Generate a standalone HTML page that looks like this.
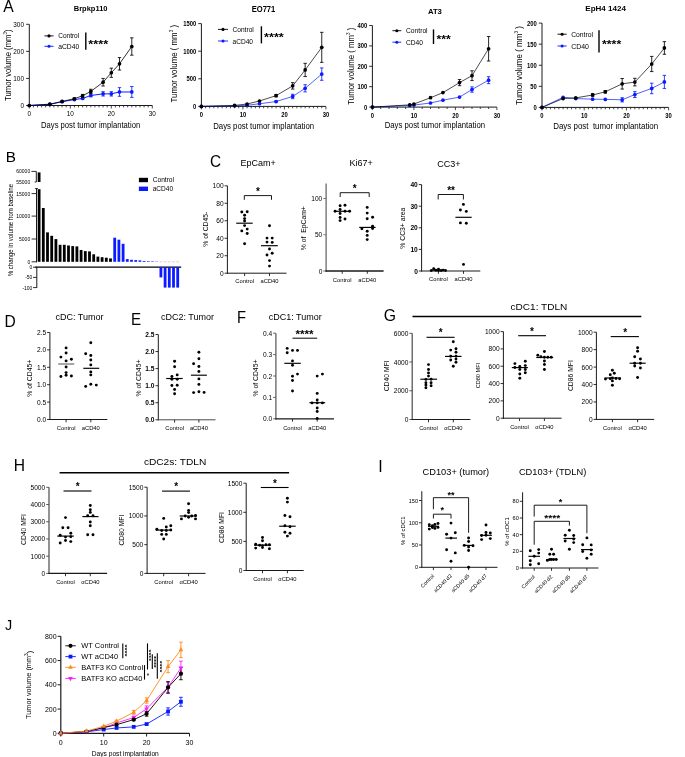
<!DOCTYPE html>
<html><head><meta charset="utf-8"><title>Figure</title>
<style>
html,body{margin:0;padding:0;background:#fff;}
body{width:685px;height:757px;overflow:hidden;}
svg{display:block;will-change:transform;}
text{font-family:"Liberation Sans",sans-serif;fill:#000;}
.pl{font-weight:normal;}
</style></head><body>
<svg width="685" height="757" viewBox="0 0 685 757">
<rect x="0" y="0" width="685" height="757" fill="#fff"/>
<text x="0" y="0" font-size="16.3" transform="translate(3.17 11.52) scale(0.964 1)">A</text>
<line x1="29.3" y1="106" x2="29.3" y2="24.3" stroke="#1a1a1a" stroke-width="1"/>
<line x1="28.8" y1="105.5" x2="152.3" y2="105.5" stroke="#1a1a1a" stroke-width="1"/>
<line x1="26.1" y1="105.5" x2="29.3" y2="105.5" stroke="#1a1a1a" stroke-width="0.9"/>
<text x="24" y="105.5" font-size="6.4" text-anchor="end" textLength="3.56" lengthAdjust="spacingAndGlyphs" dominant-baseline="central">0</text>
<line x1="26.1" y1="78.43" x2="29.3" y2="78.43" stroke="#1a1a1a" stroke-width="0.9"/>
<text x="24" y="78.43" font-size="6.4" text-anchor="end" textLength="10.68" lengthAdjust="spacingAndGlyphs" dominant-baseline="central">100</text>
<line x1="26.1" y1="51.37" x2="29.3" y2="51.37" stroke="#1a1a1a" stroke-width="0.9"/>
<text x="24" y="51.37" font-size="6.4" text-anchor="end" textLength="10.68" lengthAdjust="spacingAndGlyphs" dominant-baseline="central">200</text>
<line x1="26.1" y1="24.3" x2="29.3" y2="24.3" stroke="#1a1a1a" stroke-width="0.9"/>
<text x="24" y="24.3" font-size="6.4" text-anchor="end" textLength="10.68" lengthAdjust="spacingAndGlyphs" dominant-baseline="central">300</text>
<line x1="29.3" y1="105.5" x2="29.3" y2="108.5" stroke="#1a1a1a" stroke-width="0.8"/>
<text x="29.3" y="113.9" font-size="6.4" text-anchor="middle" textLength="3.56" lengthAdjust="spacingAndGlyphs" dominant-baseline="central">0</text>
<line x1="33.4" y1="105.5" x2="33.4" y2="107.4" stroke="#1a1a1a" stroke-width="0.8"/>
<line x1="37.5" y1="105.5" x2="37.5" y2="107.4" stroke="#1a1a1a" stroke-width="0.8"/>
<line x1="41.6" y1="105.5" x2="41.6" y2="107.4" stroke="#1a1a1a" stroke-width="0.8"/>
<line x1="45.7" y1="105.5" x2="45.7" y2="107.4" stroke="#1a1a1a" stroke-width="0.8"/>
<line x1="49.8" y1="105.5" x2="49.8" y2="107.4" stroke="#1a1a1a" stroke-width="0.8"/>
<line x1="53.9" y1="105.5" x2="53.9" y2="107.4" stroke="#1a1a1a" stroke-width="0.8"/>
<line x1="58" y1="105.5" x2="58" y2="107.4" stroke="#1a1a1a" stroke-width="0.8"/>
<line x1="62.1" y1="105.5" x2="62.1" y2="107.4" stroke="#1a1a1a" stroke-width="0.8"/>
<line x1="66.2" y1="105.5" x2="66.2" y2="107.4" stroke="#1a1a1a" stroke-width="0.8"/>
<line x1="70.3" y1="105.5" x2="70.3" y2="108.5" stroke="#1a1a1a" stroke-width="0.8"/>
<text x="70.3" y="113.9" font-size="6.4" text-anchor="middle" textLength="7.12" lengthAdjust="spacingAndGlyphs" dominant-baseline="central">10</text>
<line x1="74.4" y1="105.5" x2="74.4" y2="107.4" stroke="#1a1a1a" stroke-width="0.8"/>
<line x1="78.5" y1="105.5" x2="78.5" y2="107.4" stroke="#1a1a1a" stroke-width="0.8"/>
<line x1="82.6" y1="105.5" x2="82.6" y2="107.4" stroke="#1a1a1a" stroke-width="0.8"/>
<line x1="86.7" y1="105.5" x2="86.7" y2="107.4" stroke="#1a1a1a" stroke-width="0.8"/>
<line x1="90.8" y1="105.5" x2="90.8" y2="107.4" stroke="#1a1a1a" stroke-width="0.8"/>
<line x1="94.9" y1="105.5" x2="94.9" y2="107.4" stroke="#1a1a1a" stroke-width="0.8"/>
<line x1="99" y1="105.5" x2="99" y2="107.4" stroke="#1a1a1a" stroke-width="0.8"/>
<line x1="103.1" y1="105.5" x2="103.1" y2="107.4" stroke="#1a1a1a" stroke-width="0.8"/>
<line x1="107.2" y1="105.5" x2="107.2" y2="107.4" stroke="#1a1a1a" stroke-width="0.8"/>
<line x1="111.3" y1="105.5" x2="111.3" y2="108.5" stroke="#1a1a1a" stroke-width="0.8"/>
<text x="111.3" y="113.9" font-size="6.4" text-anchor="middle" textLength="7.12" lengthAdjust="spacingAndGlyphs" dominant-baseline="central">20</text>
<line x1="115.4" y1="105.5" x2="115.4" y2="107.4" stroke="#1a1a1a" stroke-width="0.8"/>
<line x1="119.5" y1="105.5" x2="119.5" y2="107.4" stroke="#1a1a1a" stroke-width="0.8"/>
<line x1="123.6" y1="105.5" x2="123.6" y2="107.4" stroke="#1a1a1a" stroke-width="0.8"/>
<line x1="127.7" y1="105.5" x2="127.7" y2="107.4" stroke="#1a1a1a" stroke-width="0.8"/>
<line x1="131.8" y1="105.5" x2="131.8" y2="107.4" stroke="#1a1a1a" stroke-width="0.8"/>
<line x1="135.9" y1="105.5" x2="135.9" y2="107.4" stroke="#1a1a1a" stroke-width="0.8"/>
<line x1="140" y1="105.5" x2="140" y2="107.4" stroke="#1a1a1a" stroke-width="0.8"/>
<line x1="144.1" y1="105.5" x2="144.1" y2="107.4" stroke="#1a1a1a" stroke-width="0.8"/>
<line x1="148.2" y1="105.5" x2="148.2" y2="107.4" stroke="#1a1a1a" stroke-width="0.8"/>
<line x1="152.3" y1="105.5" x2="152.3" y2="108.5" stroke="#1a1a1a" stroke-width="0.8"/>
<text x="152.3" y="113.9" font-size="6.4" text-anchor="middle" textLength="7.12" lengthAdjust="spacingAndGlyphs" dominant-baseline="central">30</text>
<polyline points="29.3,105.5 49.8,104.42 62.1,101.71 74.4,99.55 82.6,98.46 90.8,95.49 103.1,93.86 111.3,93.86 119.5,91.97 131.8,91.97" fill="none" stroke="#0a1cff" stroke-width="1" stroke-linejoin="round"/>
<line x1="74.4" y1="100.09" x2="74.4" y2="99" stroke="#0a1cff" stroke-width="0.85"/>
<line x1="72.7" y1="100.09" x2="76.1" y2="100.09" stroke="#0a1cff" stroke-width="0.85"/>
<line x1="72.7" y1="99" x2="76.1" y2="99" stroke="#0a1cff" stroke-width="0.85"/>
<line x1="82.6" y1="99.27" x2="82.6" y2="97.65" stroke="#0a1cff" stroke-width="0.85"/>
<line x1="80.9" y1="99.27" x2="84.3" y2="99.27" stroke="#0a1cff" stroke-width="0.85"/>
<line x1="80.9" y1="97.65" x2="84.3" y2="97.65" stroke="#0a1cff" stroke-width="0.85"/>
<line x1="90.8" y1="96.84" x2="90.8" y2="94.13" stroke="#0a1cff" stroke-width="0.85"/>
<line x1="89.1" y1="96.84" x2="92.5" y2="96.84" stroke="#0a1cff" stroke-width="0.85"/>
<line x1="89.1" y1="94.13" x2="92.5" y2="94.13" stroke="#0a1cff" stroke-width="0.85"/>
<line x1="103.1" y1="96.03" x2="103.1" y2="91.7" stroke="#0a1cff" stroke-width="0.85"/>
<line x1="101.4" y1="96.03" x2="104.8" y2="96.03" stroke="#0a1cff" stroke-width="0.85"/>
<line x1="101.4" y1="91.7" x2="104.8" y2="91.7" stroke="#0a1cff" stroke-width="0.85"/>
<line x1="111.3" y1="96.03" x2="111.3" y2="91.7" stroke="#0a1cff" stroke-width="0.85"/>
<line x1="109.6" y1="96.03" x2="113" y2="96.03" stroke="#0a1cff" stroke-width="0.85"/>
<line x1="109.6" y1="91.7" x2="113" y2="91.7" stroke="#0a1cff" stroke-width="0.85"/>
<line x1="119.5" y1="96.3" x2="119.5" y2="87.64" stroke="#0a1cff" stroke-width="0.85"/>
<line x1="117.8" y1="96.3" x2="121.2" y2="96.3" stroke="#0a1cff" stroke-width="0.85"/>
<line x1="117.8" y1="87.64" x2="121.2" y2="87.64" stroke="#0a1cff" stroke-width="0.85"/>
<line x1="131.8" y1="97.38" x2="131.8" y2="86.55" stroke="#0a1cff" stroke-width="0.85"/>
<line x1="130.1" y1="97.38" x2="133.5" y2="97.38" stroke="#0a1cff" stroke-width="0.85"/>
<line x1="130.1" y1="86.55" x2="133.5" y2="86.55" stroke="#0a1cff" stroke-width="0.85"/>
<circle cx="29.3" cy="105.5" r="1.85" fill="#0a1cff"/>
<circle cx="49.8" cy="104.42" r="1.85" fill="#0a1cff"/>
<circle cx="62.1" cy="101.71" r="1.85" fill="#0a1cff"/>
<circle cx="74.4" cy="99.55" r="1.85" fill="#0a1cff"/>
<circle cx="82.6" cy="98.46" r="1.85" fill="#0a1cff"/>
<circle cx="90.8" cy="95.49" r="1.85" fill="#0a1cff"/>
<circle cx="103.1" cy="93.86" r="1.85" fill="#0a1cff"/>
<circle cx="111.3" cy="93.86" r="1.85" fill="#0a1cff"/>
<circle cx="119.5" cy="91.97" r="1.85" fill="#0a1cff"/>
<circle cx="131.8" cy="91.97" r="1.85" fill="#0a1cff"/>
<polyline points="29.3,105.5 49.8,104.15 62.1,101.44 74.4,98.73 82.6,95.76 90.8,91.43 103.1,82.22 111.3,72.75 119.5,63.82 131.8,46.49" fill="none" stroke="#000" stroke-width="0.8" stroke-linejoin="round"/>
<line x1="74.4" y1="99.55" x2="74.4" y2="97.92" stroke="#000" stroke-width="0.85"/>
<line x1="72.7" y1="99.55" x2="76.1" y2="99.55" stroke="#000" stroke-width="0.85"/>
<line x1="72.7" y1="97.92" x2="76.1" y2="97.92" stroke="#000" stroke-width="0.85"/>
<line x1="82.6" y1="97.11" x2="82.6" y2="94.4" stroke="#000" stroke-width="0.85"/>
<line x1="80.9" y1="97.11" x2="84.3" y2="97.11" stroke="#000" stroke-width="0.85"/>
<line x1="80.9" y1="94.4" x2="84.3" y2="94.4" stroke="#000" stroke-width="0.85"/>
<line x1="90.8" y1="93.59" x2="90.8" y2="89.26" stroke="#000" stroke-width="0.85"/>
<line x1="89.1" y1="93.59" x2="92.5" y2="93.59" stroke="#000" stroke-width="0.85"/>
<line x1="89.1" y1="89.26" x2="92.5" y2="89.26" stroke="#000" stroke-width="0.85"/>
<line x1="103.1" y1="86.01" x2="103.1" y2="78.43" stroke="#000" stroke-width="0.85"/>
<line x1="101.4" y1="86.01" x2="104.8" y2="86.01" stroke="#000" stroke-width="0.85"/>
<line x1="101.4" y1="78.43" x2="104.8" y2="78.43" stroke="#000" stroke-width="0.85"/>
<line x1="111.3" y1="77.35" x2="111.3" y2="68.15" stroke="#000" stroke-width="0.85"/>
<line x1="109.6" y1="77.35" x2="113" y2="77.35" stroke="#000" stroke-width="0.85"/>
<line x1="109.6" y1="68.15" x2="113" y2="68.15" stroke="#000" stroke-width="0.85"/>
<line x1="119.5" y1="70.04" x2="119.5" y2="57.59" stroke="#000" stroke-width="0.85"/>
<line x1="117.8" y1="70.04" x2="121.2" y2="70.04" stroke="#000" stroke-width="0.85"/>
<line x1="117.8" y1="57.59" x2="121.2" y2="57.59" stroke="#000" stroke-width="0.85"/>
<line x1="131.8" y1="55.16" x2="131.8" y2="37.83" stroke="#000" stroke-width="0.85"/>
<line x1="130.1" y1="55.16" x2="133.5" y2="55.16" stroke="#000" stroke-width="0.85"/>
<line x1="130.1" y1="37.83" x2="133.5" y2="37.83" stroke="#000" stroke-width="0.85"/>
<circle cx="29.3" cy="105.5" r="1.85" fill="#000"/>
<circle cx="49.8" cy="104.15" r="1.85" fill="#000"/>
<circle cx="62.1" cy="101.44" r="1.85" fill="#000"/>
<circle cx="74.4" cy="98.73" r="1.85" fill="#000"/>
<circle cx="82.6" cy="95.76" r="1.85" fill="#000"/>
<circle cx="90.8" cy="91.43" r="1.85" fill="#000"/>
<circle cx="103.1" cy="82.22" r="1.85" fill="#000"/>
<circle cx="111.3" cy="72.75" r="1.85" fill="#000"/>
<circle cx="119.5" cy="63.82" r="1.85" fill="#000"/>
<circle cx="131.8" cy="46.49" r="1.85" fill="#000"/>
<text x="90.65" y="8.45" font-size="7.3" text-anchor="middle" font-weight="bold" textLength="33.7" lengthAdjust="spacingAndGlyphs" dominant-baseline="central">Brpkp110</text>
<text x="8.3" y="65.2" font-size="8.6" text-anchor="middle" textLength="71.4" lengthAdjust="spacingAndGlyphs" transform="rotate(-90 8.3 65.2)" dominant-baseline="central">Tumor volume (mm<tspan font-size="5" dy="-3">3</tspan><tspan dy="3">)</tspan></text>
<text x="90.6" y="124.6" font-size="8.6" text-anchor="middle" textLength="99.1" lengthAdjust="spacingAndGlyphs" dominant-baseline="central">Days post tumor implantation</text>
<line x1="44.4" y1="35.9" x2="53.6" y2="35.9" stroke="#000" stroke-width="0.9"/>
<circle cx="49" cy="35.9" r="1.55" fill="#000"/>
<text x="58.2" y="35.9" font-size="7.3" textLength="21" lengthAdjust="spacingAndGlyphs" dominant-baseline="central">Control</text>
<line x1="44.4" y1="46.3" x2="53.6" y2="46.3" stroke="#0a1cff" stroke-width="0.9"/>
<circle cx="49" cy="46.3" r="1.55" fill="#0a1cff"/>
<text x="58.2" y="46.3" font-size="7.3" textLength="21" lengthAdjust="spacingAndGlyphs" dominant-baseline="central">aCD40</text>
<line x1="85.8" y1="32.4" x2="85.8" y2="49.7" stroke="#000" stroke-width="1.4"/>
<text x="88.3" y="43.5" font-size="11" font-weight="bold" textLength="19.8" lengthAdjust="spacingAndGlyphs" dominant-baseline="central">****</text>
<line x1="201.4" y1="106.9" x2="201.4" y2="23.6" stroke="#1a1a1a" stroke-width="1"/>
<line x1="200.9" y1="106.4" x2="325.9" y2="106.4" stroke="#1a1a1a" stroke-width="1"/>
<line x1="198.2" y1="106.4" x2="201.4" y2="106.4" stroke="#1a1a1a" stroke-width="0.9"/>
<text x="196.2" y="106.4" font-size="6.3" text-anchor="end" font-weight="bold" textLength="3.26" lengthAdjust="spacingAndGlyphs" dominant-baseline="central">0</text>
<line x1="198.2" y1="78.8" x2="201.4" y2="78.8" stroke="#1a1a1a" stroke-width="0.9"/>
<text x="196.2" y="78.8" font-size="6.3" text-anchor="end" font-weight="bold" textLength="9.78" lengthAdjust="spacingAndGlyphs" dominant-baseline="central">500</text>
<line x1="198.2" y1="51.2" x2="201.4" y2="51.2" stroke="#1a1a1a" stroke-width="0.9"/>
<text x="196.2" y="51.2" font-size="6.3" text-anchor="end" font-weight="bold" textLength="13.03" lengthAdjust="spacingAndGlyphs" dominant-baseline="central">1000</text>
<line x1="198.2" y1="23.6" x2="201.4" y2="23.6" stroke="#1a1a1a" stroke-width="0.9"/>
<text x="196.2" y="23.6" font-size="6.3" text-anchor="end" font-weight="bold" textLength="13.03" lengthAdjust="spacingAndGlyphs" dominant-baseline="central">1500</text>
<line x1="201.4" y1="106.4" x2="201.4" y2="109.4" stroke="#1a1a1a" stroke-width="0.8"/>
<text x="201.4" y="114.8" font-size="6.3" text-anchor="middle" font-weight="bold" textLength="3.26" lengthAdjust="spacingAndGlyphs" dominant-baseline="central">0</text>
<line x1="205.55" y1="106.4" x2="205.55" y2="108.3" stroke="#1a1a1a" stroke-width="0.8"/>
<line x1="209.7" y1="106.4" x2="209.7" y2="108.3" stroke="#1a1a1a" stroke-width="0.8"/>
<line x1="213.85" y1="106.4" x2="213.85" y2="108.3" stroke="#1a1a1a" stroke-width="0.8"/>
<line x1="218" y1="106.4" x2="218" y2="108.3" stroke="#1a1a1a" stroke-width="0.8"/>
<line x1="222.15" y1="106.4" x2="222.15" y2="108.3" stroke="#1a1a1a" stroke-width="0.8"/>
<line x1="226.3" y1="106.4" x2="226.3" y2="108.3" stroke="#1a1a1a" stroke-width="0.8"/>
<line x1="230.45" y1="106.4" x2="230.45" y2="108.3" stroke="#1a1a1a" stroke-width="0.8"/>
<line x1="234.6" y1="106.4" x2="234.6" y2="108.3" stroke="#1a1a1a" stroke-width="0.8"/>
<line x1="238.75" y1="106.4" x2="238.75" y2="108.3" stroke="#1a1a1a" stroke-width="0.8"/>
<line x1="242.9" y1="106.4" x2="242.9" y2="109.4" stroke="#1a1a1a" stroke-width="0.8"/>
<text x="242.9" y="114.8" font-size="6.3" text-anchor="middle" font-weight="bold" textLength="6.52" lengthAdjust="spacingAndGlyphs" dominant-baseline="central">10</text>
<line x1="247.05" y1="106.4" x2="247.05" y2="108.3" stroke="#1a1a1a" stroke-width="0.8"/>
<line x1="251.2" y1="106.4" x2="251.2" y2="108.3" stroke="#1a1a1a" stroke-width="0.8"/>
<line x1="255.35" y1="106.4" x2="255.35" y2="108.3" stroke="#1a1a1a" stroke-width="0.8"/>
<line x1="259.5" y1="106.4" x2="259.5" y2="108.3" stroke="#1a1a1a" stroke-width="0.8"/>
<line x1="263.65" y1="106.4" x2="263.65" y2="108.3" stroke="#1a1a1a" stroke-width="0.8"/>
<line x1="267.8" y1="106.4" x2="267.8" y2="108.3" stroke="#1a1a1a" stroke-width="0.8"/>
<line x1="271.95" y1="106.4" x2="271.95" y2="108.3" stroke="#1a1a1a" stroke-width="0.8"/>
<line x1="276.1" y1="106.4" x2="276.1" y2="108.3" stroke="#1a1a1a" stroke-width="0.8"/>
<line x1="280.25" y1="106.4" x2="280.25" y2="108.3" stroke="#1a1a1a" stroke-width="0.8"/>
<line x1="284.4" y1="106.4" x2="284.4" y2="109.4" stroke="#1a1a1a" stroke-width="0.8"/>
<text x="284.4" y="114.8" font-size="6.3" text-anchor="middle" font-weight="bold" textLength="6.52" lengthAdjust="spacingAndGlyphs" dominant-baseline="central">20</text>
<line x1="288.55" y1="106.4" x2="288.55" y2="108.3" stroke="#1a1a1a" stroke-width="0.8"/>
<line x1="292.7" y1="106.4" x2="292.7" y2="108.3" stroke="#1a1a1a" stroke-width="0.8"/>
<line x1="296.85" y1="106.4" x2="296.85" y2="108.3" stroke="#1a1a1a" stroke-width="0.8"/>
<line x1="301" y1="106.4" x2="301" y2="108.3" stroke="#1a1a1a" stroke-width="0.8"/>
<line x1="305.15" y1="106.4" x2="305.15" y2="108.3" stroke="#1a1a1a" stroke-width="0.8"/>
<line x1="309.3" y1="106.4" x2="309.3" y2="108.3" stroke="#1a1a1a" stroke-width="0.8"/>
<line x1="313.45" y1="106.4" x2="313.45" y2="108.3" stroke="#1a1a1a" stroke-width="0.8"/>
<line x1="317.6" y1="106.4" x2="317.6" y2="108.3" stroke="#1a1a1a" stroke-width="0.8"/>
<line x1="321.75" y1="106.4" x2="321.75" y2="108.3" stroke="#1a1a1a" stroke-width="0.8"/>
<line x1="325.9" y1="106.4" x2="325.9" y2="109.4" stroke="#1a1a1a" stroke-width="0.8"/>
<text x="325.9" y="114.8" font-size="6.3" text-anchor="middle" font-weight="bold" textLength="6.52" lengthAdjust="spacingAndGlyphs" dominant-baseline="central">30</text>
<polyline points="201.4,106.4 234.6,105.85 247.05,105.3 259.5,103.75 276.1,101.54 292.7,96.46 305.15,88.29 321.75,74.11" fill="none" stroke="#0a1cff" stroke-width="0.7" stroke-linejoin="round"/>
<line x1="276.1" y1="102.09" x2="276.1" y2="100.99" stroke="#0a1cff" stroke-width="0.85"/>
<line x1="274.4" y1="102.09" x2="277.8" y2="102.09" stroke="#0a1cff" stroke-width="0.85"/>
<line x1="274.4" y1="100.99" x2="277.8" y2="100.99" stroke="#0a1cff" stroke-width="0.85"/>
<line x1="292.7" y1="98.67" x2="292.7" y2="94.26" stroke="#0a1cff" stroke-width="0.85"/>
<line x1="291" y1="98.67" x2="294.4" y2="98.67" stroke="#0a1cff" stroke-width="0.85"/>
<line x1="291" y1="94.26" x2="294.4" y2="94.26" stroke="#0a1cff" stroke-width="0.85"/>
<line x1="305.15" y1="91.88" x2="305.15" y2="84.71" stroke="#0a1cff" stroke-width="0.85"/>
<line x1="303.45" y1="91.88" x2="306.85" y2="91.88" stroke="#0a1cff" stroke-width="0.85"/>
<line x1="303.45" y1="84.71" x2="306.85" y2="84.71" stroke="#0a1cff" stroke-width="0.85"/>
<line x1="321.75" y1="80.29" x2="321.75" y2="67.93" stroke="#0a1cff" stroke-width="0.85"/>
<line x1="320.05" y1="80.29" x2="323.45" y2="80.29" stroke="#0a1cff" stroke-width="0.85"/>
<line x1="320.05" y1="67.93" x2="323.45" y2="67.93" stroke="#0a1cff" stroke-width="0.85"/>
<circle cx="201.4" cy="106.4" r="1.85" fill="#0a1cff"/>
<circle cx="234.6" cy="105.85" r="1.85" fill="#0a1cff"/>
<circle cx="247.05" cy="105.3" r="1.85" fill="#0a1cff"/>
<circle cx="259.5" cy="103.75" r="1.85" fill="#0a1cff"/>
<circle cx="276.1" cy="101.54" r="1.85" fill="#0a1cff"/>
<circle cx="292.7" cy="96.46" r="1.85" fill="#0a1cff"/>
<circle cx="305.15" cy="88.29" r="1.85" fill="#0a1cff"/>
<circle cx="321.75" cy="74.11" r="1.85" fill="#0a1cff"/>
<polyline points="201.4,106.4 234.6,105.41 247.05,104.03 259.5,100.99 276.1,95.64 292.7,85.87 305.15,69.97 321.75,47.34" fill="none" stroke="#000" stroke-width="0.7" stroke-linejoin="round"/>
<line x1="276.1" y1="96.74" x2="276.1" y2="94.53" stroke="#000" stroke-width="0.85"/>
<line x1="274.4" y1="96.74" x2="277.8" y2="96.74" stroke="#000" stroke-width="0.85"/>
<line x1="274.4" y1="94.53" x2="277.8" y2="94.53" stroke="#000" stroke-width="0.85"/>
<line x1="292.7" y1="89.07" x2="292.7" y2="82.66" stroke="#000" stroke-width="0.85"/>
<line x1="291" y1="89.07" x2="294.4" y2="89.07" stroke="#000" stroke-width="0.85"/>
<line x1="291" y1="82.66" x2="294.4" y2="82.66" stroke="#000" stroke-width="0.85"/>
<line x1="305.15" y1="76.59" x2="305.15" y2="63.34" stroke="#000" stroke-width="0.85"/>
<line x1="303.45" y1="76.59" x2="306.85" y2="76.59" stroke="#000" stroke-width="0.85"/>
<line x1="303.45" y1="63.34" x2="306.85" y2="63.34" stroke="#000" stroke-width="0.85"/>
<line x1="321.75" y1="62.35" x2="321.75" y2="32.32" stroke="#000" stroke-width="0.85"/>
<line x1="320.05" y1="62.35" x2="323.45" y2="62.35" stroke="#000" stroke-width="0.85"/>
<line x1="320.05" y1="32.32" x2="323.45" y2="32.32" stroke="#000" stroke-width="0.85"/>
<circle cx="201.4" cy="106.4" r="1.85" fill="#000"/>
<circle cx="234.6" cy="105.41" r="1.85" fill="#000"/>
<circle cx="247.05" cy="104.03" r="1.85" fill="#000"/>
<circle cx="259.5" cy="100.99" r="1.85" fill="#000"/>
<circle cx="276.1" cy="95.64" r="1.85" fill="#000"/>
<circle cx="292.7" cy="85.87" r="1.85" fill="#000"/>
<circle cx="305.15" cy="69.97" r="1.85" fill="#000"/>
<circle cx="321.75" cy="47.34" r="1.85" fill="#000"/>
<text x="263.5" y="9.85" font-size="8.2" text-anchor="middle" font-weight="bold" textLength="23.7" lengthAdjust="spacingAndGlyphs" dominant-baseline="central">EO771</text>
<text x="174.4" y="63.7" font-size="8.6" text-anchor="middle" textLength="77.5" lengthAdjust="spacingAndGlyphs" transform="rotate(-90 174.4 63.7)" dominant-baseline="central">Tumor volume ( mm<tspan font-size="5" dy="-3">3</tspan><tspan dy="3"> )</tspan></text>
<text x="263.7" y="125.8" font-size="8.6" text-anchor="middle" textLength="101" lengthAdjust="spacingAndGlyphs" dominant-baseline="central">Days post tumor implantation</text>
<line x1="218" y1="29.4" x2="228" y2="29.4" stroke="#000" stroke-width="0.9"/>
<circle cx="223" cy="29.4" r="1.55" fill="#000"/>
<text x="232.5" y="29.4" font-size="7.3" textLength="21.3" lengthAdjust="spacingAndGlyphs" dominant-baseline="central">Control</text>
<line x1="218" y1="41" x2="228" y2="41" stroke="#0a1cff" stroke-width="0.9"/>
<circle cx="223" cy="41" r="1.55" fill="#0a1cff"/>
<text x="232.5" y="41" font-size="7.3" textLength="20.5" lengthAdjust="spacingAndGlyphs" dominant-baseline="central">aCD40</text>
<line x1="261.4" y1="26.3" x2="261.4" y2="43.4" stroke="#000" stroke-width="1.4"/>
<text x="264" y="37.3" font-size="11" font-weight="bold" textLength="19.8" lengthAdjust="spacingAndGlyphs" dominant-baseline="central">****</text>
<line x1="372.4" y1="107.6" x2="372.4" y2="25.5" stroke="#1a1a1a" stroke-width="1"/>
<line x1="371.9" y1="107.1" x2="496.9" y2="107.1" stroke="#1a1a1a" stroke-width="1"/>
<line x1="369.2" y1="107.1" x2="372.4" y2="107.1" stroke="#1a1a1a" stroke-width="0.9"/>
<text x="367.2" y="107.1" font-size="6.3" text-anchor="end" font-weight="bold" textLength="3.26" lengthAdjust="spacingAndGlyphs" dominant-baseline="central">0</text>
<line x1="369.2" y1="86.7" x2="372.4" y2="86.7" stroke="#1a1a1a" stroke-width="0.9"/>
<text x="367.2" y="86.7" font-size="6.3" text-anchor="end" font-weight="bold" textLength="9.78" lengthAdjust="spacingAndGlyphs" dominant-baseline="central">100</text>
<line x1="369.2" y1="66.3" x2="372.4" y2="66.3" stroke="#1a1a1a" stroke-width="0.9"/>
<text x="367.2" y="66.3" font-size="6.3" text-anchor="end" font-weight="bold" textLength="9.78" lengthAdjust="spacingAndGlyphs" dominant-baseline="central">200</text>
<line x1="369.2" y1="45.9" x2="372.4" y2="45.9" stroke="#1a1a1a" stroke-width="0.9"/>
<text x="367.2" y="45.9" font-size="6.3" text-anchor="end" font-weight="bold" textLength="9.78" lengthAdjust="spacingAndGlyphs" dominant-baseline="central">300</text>
<line x1="369.2" y1="25.5" x2="372.4" y2="25.5" stroke="#1a1a1a" stroke-width="0.9"/>
<text x="367.2" y="25.5" font-size="6.3" text-anchor="end" font-weight="bold" textLength="9.78" lengthAdjust="spacingAndGlyphs" dominant-baseline="central">400</text>
<line x1="372.4" y1="107.1" x2="372.4" y2="110.1" stroke="#1a1a1a" stroke-width="0.8"/>
<text x="372.4" y="115.5" font-size="6.3" text-anchor="middle" font-weight="bold" textLength="3.26" lengthAdjust="spacingAndGlyphs" dominant-baseline="central">0</text>
<line x1="380.7" y1="107.1" x2="380.7" y2="109" stroke="#1a1a1a" stroke-width="0.8"/>
<line x1="389" y1="107.1" x2="389" y2="109" stroke="#1a1a1a" stroke-width="0.8"/>
<line x1="397.3" y1="107.1" x2="397.3" y2="109" stroke="#1a1a1a" stroke-width="0.8"/>
<line x1="405.6" y1="107.1" x2="405.6" y2="109" stroke="#1a1a1a" stroke-width="0.8"/>
<line x1="413.9" y1="107.1" x2="413.9" y2="110.1" stroke="#1a1a1a" stroke-width="0.8"/>
<text x="413.9" y="115.5" font-size="6.3" text-anchor="middle" font-weight="bold" textLength="6.52" lengthAdjust="spacingAndGlyphs" dominant-baseline="central">10</text>
<line x1="422.2" y1="107.1" x2="422.2" y2="109" stroke="#1a1a1a" stroke-width="0.8"/>
<line x1="430.5" y1="107.1" x2="430.5" y2="109" stroke="#1a1a1a" stroke-width="0.8"/>
<line x1="438.8" y1="107.1" x2="438.8" y2="109" stroke="#1a1a1a" stroke-width="0.8"/>
<line x1="447.1" y1="107.1" x2="447.1" y2="109" stroke="#1a1a1a" stroke-width="0.8"/>
<line x1="455.4" y1="107.1" x2="455.4" y2="110.1" stroke="#1a1a1a" stroke-width="0.8"/>
<text x="455.4" y="115.5" font-size="6.3" text-anchor="middle" font-weight="bold" textLength="6.52" lengthAdjust="spacingAndGlyphs" dominant-baseline="central">20</text>
<line x1="463.7" y1="107.1" x2="463.7" y2="109" stroke="#1a1a1a" stroke-width="0.8"/>
<line x1="472" y1="107.1" x2="472" y2="109" stroke="#1a1a1a" stroke-width="0.8"/>
<line x1="480.3" y1="107.1" x2="480.3" y2="109" stroke="#1a1a1a" stroke-width="0.8"/>
<line x1="488.6" y1="107.1" x2="488.6" y2="109" stroke="#1a1a1a" stroke-width="0.8"/>
<line x1="496.9" y1="107.1" x2="496.9" y2="110.1" stroke="#1a1a1a" stroke-width="0.8"/>
<text x="496.9" y="115.5" font-size="6.3" text-anchor="middle" font-weight="bold" textLength="6.52" lengthAdjust="spacingAndGlyphs" dominant-baseline="central">30</text>
<polyline points="372.4,107.1 409.75,105.47 413.9,105.06 430.5,103.02 442.95,100.16 459.55,97.1 472,89.56 488.6,80.17" fill="none" stroke="#0a1cff" stroke-width="0.7" stroke-linejoin="round"/>
<line x1="472" y1="92.21" x2="472" y2="86.9" stroke="#0a1cff" stroke-width="0.85"/>
<line x1="470.3" y1="92.21" x2="473.7" y2="92.21" stroke="#0a1cff" stroke-width="0.85"/>
<line x1="470.3" y1="86.9" x2="473.7" y2="86.9" stroke="#0a1cff" stroke-width="0.85"/>
<line x1="488.6" y1="83.64" x2="488.6" y2="76.7" stroke="#0a1cff" stroke-width="0.85"/>
<line x1="486.9" y1="83.64" x2="490.3" y2="83.64" stroke="#0a1cff" stroke-width="0.85"/>
<line x1="486.9" y1="76.7" x2="490.3" y2="76.7" stroke="#0a1cff" stroke-width="0.85"/>
<circle cx="372.4" cy="107.1" r="1.85" fill="#0a1cff"/>
<circle cx="409.75" cy="105.47" r="1.85" fill="#0a1cff"/>
<circle cx="413.9" cy="105.06" r="1.85" fill="#0a1cff"/>
<circle cx="430.5" cy="103.02" r="1.85" fill="#0a1cff"/>
<circle cx="442.95" cy="100.16" r="1.85" fill="#0a1cff"/>
<circle cx="459.55" cy="97.1" r="1.85" fill="#0a1cff"/>
<circle cx="472" cy="89.56" r="1.85" fill="#0a1cff"/>
<circle cx="488.6" cy="80.17" r="1.85" fill="#0a1cff"/>
<polyline points="372.4,107.1 409.75,104.86 413.9,104.04 430.5,97.72 442.95,92.62 459.55,82.62 472,75.68 488.6,48.76" fill="none" stroke="#000" stroke-width="0.7" stroke-linejoin="round"/>
<line x1="459.55" y1="85.68" x2="459.55" y2="79.56" stroke="#000" stroke-width="0.85"/>
<line x1="457.85" y1="85.68" x2="461.25" y2="85.68" stroke="#000" stroke-width="0.85"/>
<line x1="457.85" y1="79.56" x2="461.25" y2="79.56" stroke="#000" stroke-width="0.85"/>
<line x1="472" y1="80.58" x2="472" y2="70.79" stroke="#000" stroke-width="0.85"/>
<line x1="470.3" y1="80.58" x2="473.7" y2="80.58" stroke="#000" stroke-width="0.85"/>
<line x1="470.3" y1="70.79" x2="473.7" y2="70.79" stroke="#000" stroke-width="0.85"/>
<line x1="488.6" y1="61" x2="488.6" y2="36.52" stroke="#000" stroke-width="0.85"/>
<line x1="486.9" y1="61" x2="490.3" y2="61" stroke="#000" stroke-width="0.85"/>
<line x1="486.9" y1="36.52" x2="490.3" y2="36.52" stroke="#000" stroke-width="0.85"/>
<circle cx="372.4" cy="107.1" r="1.85" fill="#000"/>
<circle cx="409.75" cy="104.86" r="1.85" fill="#000"/>
<circle cx="413.9" cy="104.04" r="1.85" fill="#000"/>
<circle cx="430.5" cy="97.72" r="1.85" fill="#000"/>
<circle cx="442.95" cy="92.62" r="1.85" fill="#000"/>
<circle cx="459.55" cy="82.62" r="1.85" fill="#000"/>
<circle cx="472" cy="75.68" r="1.85" fill="#000"/>
<circle cx="488.6" cy="48.76" r="1.85" fill="#000"/>
<text x="434.9" y="11" font-size="7.8" text-anchor="middle" font-weight="bold" textLength="14" lengthAdjust="spacingAndGlyphs" dominant-baseline="central">AT3</text>
<text x="351.3" y="66.2" font-size="8.6" text-anchor="middle" textLength="77" lengthAdjust="spacingAndGlyphs" transform="rotate(-90 351.3 66.2)" dominant-baseline="central">Tumor volume ( mm<tspan font-size="5" dy="-3">3</tspan><tspan dy="3"> )</tspan></text>
<text x="434.9" y="125.4" font-size="8.6" text-anchor="middle" textLength="100.4" lengthAdjust="spacingAndGlyphs" dominant-baseline="central">Days post tumor implantation</text>
<line x1="392.4" y1="30.7" x2="401.3" y2="30.7" stroke="#000" stroke-width="0.9"/>
<circle cx="396.85" cy="30.7" r="1.55" fill="#000"/>
<text x="406" y="30.7" font-size="7.3" textLength="21.6" lengthAdjust="spacingAndGlyphs" dominant-baseline="central">Control</text>
<line x1="392.4" y1="42.2" x2="401.3" y2="42.2" stroke="#0a1cff" stroke-width="0.9"/>
<circle cx="396.85" cy="42.2" r="1.55" fill="#0a1cff"/>
<text x="406" y="42.2" font-size="7.3" textLength="17" lengthAdjust="spacingAndGlyphs" dominant-baseline="central">CD40</text>
<line x1="433.5" y1="29.4" x2="433.5" y2="44" stroke="#000" stroke-width="1.4"/>
<text x="436.5" y="39" font-size="11" font-weight="bold" textLength="14.3" lengthAdjust="spacingAndGlyphs" dominant-baseline="central">***</text>
<line x1="542" y1="107.9" x2="542" y2="23.1" stroke="#1a1a1a" stroke-width="1"/>
<line x1="541.5" y1="107.4" x2="668.6" y2="107.4" stroke="#1a1a1a" stroke-width="1"/>
<line x1="538.8" y1="107.4" x2="542" y2="107.4" stroke="#1a1a1a" stroke-width="0.9"/>
<text x="536.8" y="107.4" font-size="6.3" text-anchor="end" font-weight="bold" textLength="3.26" lengthAdjust="spacingAndGlyphs" dominant-baseline="central">0</text>
<line x1="538.8" y1="86.33" x2="542" y2="86.33" stroke="#1a1a1a" stroke-width="0.9"/>
<text x="536.8" y="86.33" font-size="6.3" text-anchor="end" font-weight="bold" textLength="6.52" lengthAdjust="spacingAndGlyphs" dominant-baseline="central">50</text>
<line x1="538.8" y1="65.25" x2="542" y2="65.25" stroke="#1a1a1a" stroke-width="0.9"/>
<text x="536.8" y="65.25" font-size="6.3" text-anchor="end" font-weight="bold" textLength="9.78" lengthAdjust="spacingAndGlyphs" dominant-baseline="central">100</text>
<line x1="538.8" y1="44.17" x2="542" y2="44.17" stroke="#1a1a1a" stroke-width="0.9"/>
<text x="536.8" y="44.17" font-size="6.3" text-anchor="end" font-weight="bold" textLength="9.78" lengthAdjust="spacingAndGlyphs" dominant-baseline="central">150</text>
<line x1="538.8" y1="23.1" x2="542" y2="23.1" stroke="#1a1a1a" stroke-width="0.9"/>
<text x="536.8" y="23.1" font-size="6.3" text-anchor="end" font-weight="bold" textLength="9.78" lengthAdjust="spacingAndGlyphs" dominant-baseline="central">200</text>
<line x1="542" y1="107.4" x2="542" y2="110.4" stroke="#1a1a1a" stroke-width="0.8"/>
<text x="542" y="115.8" font-size="6.3" text-anchor="middle" font-weight="bold" textLength="3.26" lengthAdjust="spacingAndGlyphs" dominant-baseline="central">0</text>
<line x1="546.22" y1="107.4" x2="546.22" y2="109.3" stroke="#1a1a1a" stroke-width="0.8"/>
<line x1="550.44" y1="107.4" x2="550.44" y2="109.3" stroke="#1a1a1a" stroke-width="0.8"/>
<line x1="554.66" y1="107.4" x2="554.66" y2="109.3" stroke="#1a1a1a" stroke-width="0.8"/>
<line x1="558.88" y1="107.4" x2="558.88" y2="109.3" stroke="#1a1a1a" stroke-width="0.8"/>
<line x1="563.1" y1="107.4" x2="563.1" y2="109.3" stroke="#1a1a1a" stroke-width="0.8"/>
<line x1="567.32" y1="107.4" x2="567.32" y2="109.3" stroke="#1a1a1a" stroke-width="0.8"/>
<line x1="571.54" y1="107.4" x2="571.54" y2="109.3" stroke="#1a1a1a" stroke-width="0.8"/>
<line x1="575.76" y1="107.4" x2="575.76" y2="109.3" stroke="#1a1a1a" stroke-width="0.8"/>
<line x1="579.98" y1="107.4" x2="579.98" y2="109.3" stroke="#1a1a1a" stroke-width="0.8"/>
<line x1="584.2" y1="107.4" x2="584.2" y2="110.4" stroke="#1a1a1a" stroke-width="0.8"/>
<text x="584.2" y="115.8" font-size="6.3" text-anchor="middle" font-weight="bold" textLength="6.52" lengthAdjust="spacingAndGlyphs" dominant-baseline="central">10</text>
<line x1="588.42" y1="107.4" x2="588.42" y2="109.3" stroke="#1a1a1a" stroke-width="0.8"/>
<line x1="592.64" y1="107.4" x2="592.64" y2="109.3" stroke="#1a1a1a" stroke-width="0.8"/>
<line x1="596.86" y1="107.4" x2="596.86" y2="109.3" stroke="#1a1a1a" stroke-width="0.8"/>
<line x1="601.08" y1="107.4" x2="601.08" y2="109.3" stroke="#1a1a1a" stroke-width="0.8"/>
<line x1="605.3" y1="107.4" x2="605.3" y2="109.3" stroke="#1a1a1a" stroke-width="0.8"/>
<line x1="609.52" y1="107.4" x2="609.52" y2="109.3" stroke="#1a1a1a" stroke-width="0.8"/>
<line x1="613.74" y1="107.4" x2="613.74" y2="109.3" stroke="#1a1a1a" stroke-width="0.8"/>
<line x1="617.96" y1="107.4" x2="617.96" y2="109.3" stroke="#1a1a1a" stroke-width="0.8"/>
<line x1="622.18" y1="107.4" x2="622.18" y2="109.3" stroke="#1a1a1a" stroke-width="0.8"/>
<line x1="626.4" y1="107.4" x2="626.4" y2="110.4" stroke="#1a1a1a" stroke-width="0.8"/>
<text x="626.4" y="115.8" font-size="6.3" text-anchor="middle" font-weight="bold" textLength="6.52" lengthAdjust="spacingAndGlyphs" dominant-baseline="central">20</text>
<line x1="630.62" y1="107.4" x2="630.62" y2="109.3" stroke="#1a1a1a" stroke-width="0.8"/>
<line x1="634.84" y1="107.4" x2="634.84" y2="109.3" stroke="#1a1a1a" stroke-width="0.8"/>
<line x1="639.06" y1="107.4" x2="639.06" y2="109.3" stroke="#1a1a1a" stroke-width="0.8"/>
<line x1="643.28" y1="107.4" x2="643.28" y2="109.3" stroke="#1a1a1a" stroke-width="0.8"/>
<line x1="647.5" y1="107.4" x2="647.5" y2="109.3" stroke="#1a1a1a" stroke-width="0.8"/>
<line x1="651.72" y1="107.4" x2="651.72" y2="109.3" stroke="#1a1a1a" stroke-width="0.8"/>
<line x1="655.94" y1="107.4" x2="655.94" y2="109.3" stroke="#1a1a1a" stroke-width="0.8"/>
<line x1="660.16" y1="107.4" x2="660.16" y2="109.3" stroke="#1a1a1a" stroke-width="0.8"/>
<line x1="664.38" y1="107.4" x2="664.38" y2="109.3" stroke="#1a1a1a" stroke-width="0.8"/>
<line x1="668.6" y1="107.4" x2="668.6" y2="110.4" stroke="#1a1a1a" stroke-width="0.8"/>
<text x="668.6" y="115.8" font-size="6.3" text-anchor="middle" font-weight="bold" textLength="6.52" lengthAdjust="spacingAndGlyphs" dominant-baseline="central">30</text>
<polyline points="542,107.4 563.1,97.28 575.76,98.55 592.64,99.18 605.3,99.39 622.18,99.81 634.84,94.54 651.72,88.43 664.38,81.9" fill="none" stroke="#0a1cff" stroke-width="0.7" stroke-linejoin="round"/>
<line x1="622.18" y1="101.92" x2="622.18" y2="97.71" stroke="#0a1cff" stroke-width="0.85"/>
<line x1="620.48" y1="101.92" x2="623.88" y2="101.92" stroke="#0a1cff" stroke-width="0.85"/>
<line x1="620.48" y1="97.71" x2="623.88" y2="97.71" stroke="#0a1cff" stroke-width="0.85"/>
<line x1="634.84" y1="97.49" x2="634.84" y2="91.59" stroke="#0a1cff" stroke-width="0.85"/>
<line x1="633.14" y1="97.49" x2="636.54" y2="97.49" stroke="#0a1cff" stroke-width="0.85"/>
<line x1="633.14" y1="91.59" x2="636.54" y2="91.59" stroke="#0a1cff" stroke-width="0.85"/>
<line x1="651.72" y1="93.7" x2="651.72" y2="83.16" stroke="#0a1cff" stroke-width="0.85"/>
<line x1="650.02" y1="93.7" x2="653.42" y2="93.7" stroke="#0a1cff" stroke-width="0.85"/>
<line x1="650.02" y1="83.16" x2="653.42" y2="83.16" stroke="#0a1cff" stroke-width="0.85"/>
<line x1="664.38" y1="88.43" x2="664.38" y2="75.37" stroke="#0a1cff" stroke-width="0.85"/>
<line x1="662.68" y1="88.43" x2="666.08" y2="88.43" stroke="#0a1cff" stroke-width="0.85"/>
<line x1="662.68" y1="75.37" x2="666.08" y2="75.37" stroke="#0a1cff" stroke-width="0.85"/>
<circle cx="542" cy="107.4" r="1.85" fill="#0a1cff"/>
<circle cx="563.1" cy="97.28" r="1.85" fill="#0a1cff"/>
<circle cx="575.76" cy="98.55" r="1.85" fill="#0a1cff"/>
<circle cx="592.64" cy="99.18" r="1.85" fill="#0a1cff"/>
<circle cx="605.3" cy="99.39" r="1.85" fill="#0a1cff"/>
<circle cx="622.18" cy="99.81" r="1.85" fill="#0a1cff"/>
<circle cx="634.84" cy="94.54" r="1.85" fill="#0a1cff"/>
<circle cx="651.72" cy="88.43" r="1.85" fill="#0a1cff"/>
<circle cx="664.38" cy="81.9" r="1.85" fill="#0a1cff"/>
<polyline points="542,107.4 563.1,98.55 575.76,97.92 592.64,94.97 605.3,91.8 622.18,83.8 634.84,82.11 651.72,63.99 664.38,47.97" fill="none" stroke="#000" stroke-width="0.7" stroke-linejoin="round"/>
<line x1="592.64" y1="96.23" x2="592.64" y2="93.7" stroke="#000" stroke-width="0.85"/>
<line x1="590.94" y1="96.23" x2="594.34" y2="96.23" stroke="#000" stroke-width="0.85"/>
<line x1="590.94" y1="93.7" x2="594.34" y2="93.7" stroke="#000" stroke-width="0.85"/>
<line x1="605.3" y1="93.07" x2="605.3" y2="90.54" stroke="#000" stroke-width="0.85"/>
<line x1="603.6" y1="93.07" x2="607" y2="93.07" stroke="#000" stroke-width="0.85"/>
<line x1="603.6" y1="90.54" x2="607" y2="90.54" stroke="#000" stroke-width="0.85"/>
<line x1="622.18" y1="89.06" x2="622.18" y2="78.53" stroke="#000" stroke-width="0.85"/>
<line x1="620.48" y1="89.06" x2="623.88" y2="89.06" stroke="#000" stroke-width="0.85"/>
<line x1="620.48" y1="78.53" x2="623.88" y2="78.53" stroke="#000" stroke-width="0.85"/>
<line x1="634.84" y1="85.9" x2="634.84" y2="78.32" stroke="#000" stroke-width="0.85"/>
<line x1="633.14" y1="85.9" x2="636.54" y2="85.9" stroke="#000" stroke-width="0.85"/>
<line x1="633.14" y1="78.32" x2="636.54" y2="78.32" stroke="#000" stroke-width="0.85"/>
<line x1="651.72" y1="71.57" x2="651.72" y2="56.4" stroke="#000" stroke-width="0.85"/>
<line x1="650.02" y1="71.57" x2="653.42" y2="71.57" stroke="#000" stroke-width="0.85"/>
<line x1="650.02" y1="56.4" x2="653.42" y2="56.4" stroke="#000" stroke-width="0.85"/>
<line x1="664.38" y1="54.29" x2="664.38" y2="41.65" stroke="#000" stroke-width="0.85"/>
<line x1="662.68" y1="54.29" x2="666.08" y2="54.29" stroke="#000" stroke-width="0.85"/>
<line x1="662.68" y1="41.65" x2="666.08" y2="41.65" stroke="#000" stroke-width="0.85"/>
<circle cx="542" cy="107.4" r="1.85" fill="#000"/>
<circle cx="563.1" cy="98.55" r="1.85" fill="#000"/>
<circle cx="575.76" cy="97.92" r="1.85" fill="#000"/>
<circle cx="592.64" cy="94.97" r="1.85" fill="#000"/>
<circle cx="605.3" cy="91.8" r="1.85" fill="#000"/>
<circle cx="622.18" cy="83.8" r="1.85" fill="#000"/>
<circle cx="634.84" cy="82.11" r="1.85" fill="#000"/>
<circle cx="651.72" cy="63.99" r="1.85" fill="#000"/>
<circle cx="664.38" cy="47.97" r="1.85" fill="#000"/>
<text x="605.6" y="8.85" font-size="8" text-anchor="middle" font-weight="bold" textLength="40.6" lengthAdjust="spacingAndGlyphs" dominant-baseline="central">EpH4 1424</text>
<text x="518.8" y="65.5" font-size="8.6" text-anchor="middle" textLength="79" lengthAdjust="spacingAndGlyphs" transform="rotate(-90 518.8 65.5)" dominant-baseline="central">Tumor volume ( mm<tspan font-size="5" dy="-3">3</tspan><tspan dy="3"> )</tspan></text>
<text x="605.7" y="126.4" font-size="8.6" text-anchor="middle" textLength="105" lengthAdjust="spacingAndGlyphs" dominant-baseline="central">Days post&#160; tumor implantation</text>
<line x1="557.5" y1="34.2" x2="566.7" y2="34.2" stroke="#000" stroke-width="0.9"/>
<circle cx="562.1" cy="34.2" r="1.55" fill="#000"/>
<text x="571.2" y="34.2" font-size="7.3" textLength="21.8" lengthAdjust="spacingAndGlyphs" dominant-baseline="central">Control</text>
<line x1="557.5" y1="46" x2="566.7" y2="46" stroke="#0a1cff" stroke-width="0.9"/>
<circle cx="562.1" cy="46" r="1.55" fill="#0a1cff"/>
<text x="571.2" y="46" font-size="7.3" textLength="17.8" lengthAdjust="spacingAndGlyphs" dominant-baseline="central">CD40</text>
<line x1="599" y1="30.2" x2="599" y2="52.5" stroke="#000" stroke-width="1.4"/>
<text x="602" y="44.1" font-size="11" font-weight="bold" textLength="19.2" lengthAdjust="spacingAndGlyphs" dominant-baseline="central">****</text>
<text x="0" y="0" font-size="15.14" transform="translate(5.75 161.52) scale(1.008 1)">B</text>
<line x1="36.3" y1="171.4" x2="36.3" y2="182" stroke="#1a1a1a" stroke-width="1"/>
<line x1="31.4" y1="171.4" x2="36.3" y2="171.4" stroke="#1a1a1a" stroke-width="0.9"/>
<line x1="34.6" y1="182" x2="36.3" y2="182" stroke="#1a1a1a" stroke-width="0.9"/>
<text x="30.2" y="171.4" font-size="5" text-anchor="end" dominant-baseline="central">60000</text>
<text x="30.2" y="182" font-size="5" text-anchor="end" dominant-baseline="central">55000</text>
<line x1="36.5" y1="188.6" x2="36.5" y2="262.3" stroke="#1a1a1a" stroke-width="1"/>
<line x1="35" y1="188.6" x2="38" y2="188.6" stroke="#1a1a1a" stroke-width="0.9"/>
<line x1="31.6" y1="193.6" x2="36.5" y2="193.6" stroke="#1a1a1a" stroke-width="0.9"/>
<text x="30.2" y="193.6" font-size="5" text-anchor="end" dominant-baseline="central">15000</text>
<line x1="31.6" y1="216.1" x2="36.5" y2="216.1" stroke="#1a1a1a" stroke-width="0.9"/>
<text x="30.2" y="216.1" font-size="5" text-anchor="end" dominant-baseline="central">10000</text>
<line x1="31.6" y1="239" x2="36.5" y2="239" stroke="#1a1a1a" stroke-width="0.9"/>
<text x="30.2" y="239" font-size="5" text-anchor="end" dominant-baseline="central">5000</text>
<line x1="31.6" y1="261.8" x2="36.5" y2="261.8" stroke="#1a1a1a" stroke-width="0.9"/>
<text x="30.2" y="261.8" font-size="5" text-anchor="end" dominant-baseline="central">0</text>
<line x1="36.8" y1="267.2" x2="36.8" y2="288" stroke="#1a1a1a" stroke-width="1"/>
<line x1="35.2" y1="267.2" x2="181.2" y2="267.2" stroke="#000" stroke-width="1.3"/>
<line x1="33" y1="267.2" x2="36.8" y2="267.2" stroke="#1a1a1a" stroke-width="0.9"/>
<text x="32.4" y="267.2" font-size="5" text-anchor="end" dominant-baseline="central">0</text>
<line x1="33" y1="277.4" x2="36.8" y2="277.4" stroke="#1a1a1a" stroke-width="0.9"/>
<text x="32.4" y="277.4" font-size="5" text-anchor="end" dominant-baseline="central">-50</text>
<line x1="33" y1="287.6" x2="36.8" y2="287.6" stroke="#1a1a1a" stroke-width="0.9"/>
<text x="32.4" y="287.6" font-size="5" text-anchor="end" dominant-baseline="central">-100</text>
<rect x="37.7" y="172.4" width="2.8" height="9.6" fill="#000"/>
<rect x="37.7" y="189.2" width="2.8" height="72.6" fill="#000"/>
<rect x="41.9" y="208" width="2.8" height="53.8" fill="#000"/>
<rect x="46.1" y="232.4" width="2.8" height="29.4" fill="#000"/>
<rect x="50.3" y="235.8" width="2.8" height="26" fill="#000"/>
<rect x="54.5" y="239.1" width="2.8" height="22.7" fill="#000"/>
<rect x="58.7" y="244.8" width="2.8" height="17" fill="#000"/>
<rect x="62.9" y="244.8" width="2.8" height="17" fill="#000"/>
<rect x="67.1" y="245.5" width="2.8" height="16.3" fill="#000"/>
<rect x="71.3" y="246.1" width="2.8" height="15.7" fill="#000"/>
<rect x="75.5" y="246.4" width="2.8" height="15.4" fill="#000"/>
<rect x="79.7" y="250" width="2.8" height="11.8" fill="#000"/>
<rect x="83.9" y="251.1" width="2.8" height="10.7" fill="#000"/>
<rect x="88.1" y="251.4" width="2.8" height="10.4" fill="#000"/>
<rect x="92.3" y="254.3" width="2.8" height="7.5" fill="#000"/>
<rect x="96.5" y="256.6" width="2.8" height="5.2" fill="#000"/>
<rect x="100.7" y="257.2" width="2.8" height="4.6" fill="#000"/>
<rect x="104.9" y="257.7" width="2.8" height="4.1" fill="#000"/>
<rect x="109.1" y="258.4" width="2.8" height="3.4" fill="#000"/>
<rect x="113.3" y="237.7" width="2.8" height="24.1" fill="#0a1cff"/>
<rect x="117.5" y="239.7" width="2.8" height="22.1" fill="#0a1cff"/>
<rect x="121.7" y="243.8" width="2.8" height="18" fill="#0a1cff"/>
<rect x="125.9" y="259.1" width="2.8" height="2.7" fill="#0a1cff"/>
<rect x="130.1" y="259.8" width="2.8" height="2" fill="#0a1cff"/>
<rect x="134.3" y="260.1" width="2.8" height="1.7" fill="#0a1cff"/>
<rect x="138.5" y="260.4" width="2.8" height="1.4" fill="#0a1cff"/>
<rect x="142.7" y="261" width="2.8" height="0.8" fill="#0a1cff"/>
<rect x="146.9" y="261.2" width="2.8" height="0.6" fill="#0a1cff"/>
<rect x="151.1" y="261.3" width="2.8" height="0.5" fill="#0a1cff"/>
<rect x="155.3" y="261.5" width="2.8" height="0.3" fill="#0a1cff"/>
<line x1="159.5" y1="261.8" x2="162.3" y2="261.8" stroke="#b8b8b8" stroke-width="0.6"/>
<line x1="163.7" y1="261.8" x2="166.5" y2="261.8" stroke="#b8b8b8" stroke-width="0.6"/>
<line x1="167.9" y1="261.8" x2="170.7" y2="261.8" stroke="#b8b8b8" stroke-width="0.6"/>
<line x1="172.1" y1="261.8" x2="174.9" y2="261.8" stroke="#b8b8b8" stroke-width="0.6"/>
<line x1="176.3" y1="261.8" x2="179.1" y2="261.8" stroke="#b8b8b8" stroke-width="0.6"/>
<rect x="159.5" y="267.2" width="2.8" height="10.2" fill="#0a1cff"/>
<rect x="163.7" y="267.2" width="2.8" height="20.4" fill="#0a1cff"/>
<rect x="167.9" y="267.2" width="2.8" height="20.4" fill="#0a1cff"/>
<rect x="172.1" y="267.2" width="2.8" height="20.4" fill="#0a1cff"/>
<rect x="176.3" y="267.2" width="2.8" height="20.4" fill="#0a1cff"/>
<rect x="138.9" y="177.8" width="9.1" height="4.4" fill="#000"/>
<rect x="138.9" y="186.6" width="9.1" height="4.4" fill="#0a1cff"/>
<text x="152.7" y="179.8" font-size="7" textLength="21.3" lengthAdjust="spacingAndGlyphs" dominant-baseline="central">Control</text>
<text x="152.7" y="188.8" font-size="7" textLength="20.4" lengthAdjust="spacingAndGlyphs" dominant-baseline="central">aCD40</text>
<text x="11" y="230.1" font-size="6.8" text-anchor="middle" textLength="92.3" lengthAdjust="spacingAndGlyphs" transform="rotate(-90 11 230.1)" dominant-baseline="central">% change in volume from baseline</text>
<text x="0" y="0" font-size="15.98" transform="translate(210.12 166.96) scale(0.960 1)">C</text>
<line x1="227.4" y1="273.7" x2="227.4" y2="185.8" stroke="#1a1a1a" stroke-width="1"/>
<line x1="224.6" y1="273.2" x2="227.4" y2="273.2" stroke="#1a1a1a" stroke-width="0.9"/>
<text x="223.6" y="273.2" font-size="6.6" text-anchor="end" dominant-baseline="central">0</text>
<line x1="224.6" y1="255.72" x2="227.4" y2="255.72" stroke="#1a1a1a" stroke-width="0.9"/>
<text x="223.6" y="255.72" font-size="6.6" text-anchor="end" dominant-baseline="central">20</text>
<line x1="224.6" y1="238.24" x2="227.4" y2="238.24" stroke="#1a1a1a" stroke-width="0.9"/>
<text x="223.6" y="238.24" font-size="6.6" text-anchor="end" dominant-baseline="central">40</text>
<line x1="224.6" y1="220.76" x2="227.4" y2="220.76" stroke="#1a1a1a" stroke-width="0.9"/>
<text x="223.6" y="220.76" font-size="6.6" text-anchor="end" dominant-baseline="central">60</text>
<line x1="224.6" y1="203.28" x2="227.4" y2="203.28" stroke="#1a1a1a" stroke-width="0.9"/>
<text x="223.6" y="203.28" font-size="6.6" text-anchor="end" dominant-baseline="central">80</text>
<line x1="224.6" y1="185.8" x2="227.4" y2="185.8" stroke="#1a1a1a" stroke-width="0.9"/>
<text x="223.6" y="185.8" font-size="6.6" text-anchor="end" dominant-baseline="central">100</text>
<line x1="226.9" y1="273.2" x2="286.5" y2="273.2" stroke="#1a1a1a" stroke-width="1"/>
<line x1="244.6" y1="273.2" x2="244.6" y2="276" stroke="#1a1a1a" stroke-width="0.9"/>
<line x1="269.5" y1="273.2" x2="269.5" y2="276" stroke="#1a1a1a" stroke-width="0.9"/>
<text x="244.6" y="281.2" font-size="5.8" text-anchor="middle" dominant-baseline="central">Control</text>
<text x="269.5" y="281.2" font-size="5.8" text-anchor="middle" dominant-baseline="central">aCD40</text>
<circle cx="241.8" cy="212" r="1.45" fill="#000"/>
<circle cx="247.2" cy="211.7" r="1.45" fill="#000"/>
<circle cx="244.6" cy="215.3" r="1.45" fill="#000"/>
<circle cx="244.6" cy="218.6" r="1.45" fill="#000"/>
<circle cx="244.6" cy="221" r="1.45" fill="#000"/>
<circle cx="244.6" cy="225.6" r="1.45" fill="#000"/>
<circle cx="241.8" cy="230.9" r="1.45" fill="#000"/>
<circle cx="247.2" cy="229.1" r="1.45" fill="#000"/>
<circle cx="247.2" cy="233.5" r="1.45" fill="#000"/>
<circle cx="244.6" cy="243.8" r="1.45" fill="#000"/>
<line x1="236.2" y1="223.2" x2="252.7" y2="223.2" stroke="#000" stroke-width="1.15"/>
<circle cx="269.5" cy="225.8" r="1.45" fill="#000"/>
<circle cx="267" cy="238.1" r="1.45" fill="#000"/>
<circle cx="272.2" cy="238.1" r="1.45" fill="#000"/>
<circle cx="267" cy="242.1" r="1.45" fill="#000"/>
<circle cx="272.2" cy="242.4" r="1.45" fill="#000"/>
<circle cx="269.5" cy="249" r="1.45" fill="#000"/>
<circle cx="272.2" cy="253.3" r="1.45" fill="#000"/>
<circle cx="267" cy="255" r="1.45" fill="#000"/>
<circle cx="269.5" cy="260.6" r="1.45" fill="#000"/>
<circle cx="269.5" cy="266.1" r="1.45" fill="#000"/>
<line x1="261" y1="245.7" x2="277.8" y2="245.7" stroke="#000" stroke-width="1.15"/>
<text x="206" y="229.2" font-size="6.8" text-anchor="middle" transform="rotate(-90 206 229.2)" dominant-baseline="central">% of CD45-</text>
<text x="258.2" y="163.4" font-size="9" text-anchor="middle" dominant-baseline="central">EpCam+</text>
<polyline points="244.3,199.8 244.3,195.6 271.5,195.6 271.5,199.8" fill="none" stroke="#000" stroke-width="0.9" stroke-linejoin="round"/>
<text x="258" y="191.66" font-size="10" text-anchor="middle" font-weight="bold" dominant-baseline="central">*</text>
<line x1="326.1" y1="271.65" x2="326.1" y2="183.6" stroke="#6a6a6a" stroke-width="1.3"/>
<line x1="323.3" y1="271" x2="326.1" y2="271" stroke="#6a6a6a" stroke-width="0.9"/>
<text x="322.3" y="271" font-size="6.6" text-anchor="end" dominant-baseline="central">0</text>
<line x1="323.3" y1="234.75" x2="326.1" y2="234.75" stroke="#6a6a6a" stroke-width="0.9"/>
<text x="322.3" y="234.75" font-size="6.6" text-anchor="end" dominant-baseline="central">50</text>
<line x1="323.3" y1="198.5" x2="326.1" y2="198.5" stroke="#6a6a6a" stroke-width="0.9"/>
<text x="322.3" y="198.5" font-size="6.6" text-anchor="end" dominant-baseline="central">100</text>
<line x1="325.45" y1="271" x2="383.6" y2="271" stroke="#1a1a1a" stroke-width="1.3"/>
<line x1="342.2" y1="271" x2="342.2" y2="273.8" stroke="#1a1a1a" stroke-width="0.9"/>
<line x1="367.3" y1="271" x2="367.3" y2="273.8" stroke="#1a1a1a" stroke-width="0.9"/>
<text x="342.2" y="279.7" font-size="5.8" text-anchor="middle" dominant-baseline="central">Control</text>
<text x="367.3" y="279.7" font-size="5.8" text-anchor="middle" dominant-baseline="central">aCD40</text>
<circle cx="340.1" cy="205.7" r="1.45" fill="#000"/>
<circle cx="345" cy="205.3" r="1.45" fill="#000"/>
<circle cx="340.1" cy="209.5" r="1.45" fill="#000"/>
<circle cx="335.1" cy="211.3" r="1.45" fill="#000"/>
<circle cx="345" cy="211.3" r="1.45" fill="#000"/>
<circle cx="349.6" cy="211.3" r="1.45" fill="#000"/>
<circle cx="340.1" cy="213.5" r="1.45" fill="#000"/>
<circle cx="340.1" cy="217.5" r="1.45" fill="#000"/>
<circle cx="345" cy="219" r="1.45" fill="#000"/>
<circle cx="340.1" cy="220.6" r="1.45" fill="#000"/>
<line x1="334.2" y1="211.3" x2="350.8" y2="211.3" stroke="#000" stroke-width="1.15"/>
<circle cx="367.2" cy="207.4" r="1.45" fill="#000"/>
<circle cx="367.2" cy="213.1" r="1.45" fill="#000"/>
<circle cx="367.2" cy="218.8" r="1.45" fill="#000"/>
<circle cx="372.6" cy="217.2" r="1.45" fill="#000"/>
<circle cx="361.9" cy="228.8" r="1.45" fill="#000"/>
<circle cx="372.6" cy="226.3" r="1.45" fill="#000"/>
<circle cx="372.6" cy="228.5" r="1.45" fill="#000"/>
<circle cx="367.2" cy="231.2" r="1.45" fill="#000"/>
<circle cx="367.2" cy="235.4" r="1.45" fill="#000"/>
<circle cx="367.2" cy="239.6" r="1.45" fill="#000"/>
<line x1="359.2" y1="227.4" x2="375.6" y2="227.4" stroke="#000" stroke-width="1.15"/>
<text x="303.9" y="228.2" font-size="6.8" text-anchor="middle" transform="rotate(-90 303.9 228.2)" dominant-baseline="central">% of&#160; EpCam+</text>
<text x="361.2" y="162.8" font-size="9" text-anchor="middle" dominant-baseline="central">Ki67+</text>
<polyline points="340.2,197 340.2,192.7 369.2,192.7 369.2,197" fill="none" stroke="#000" stroke-width="0.9" stroke-linejoin="round"/>
<text x="354.6" y="188.86" font-size="10" text-anchor="middle" font-weight="bold" dominant-baseline="central">*</text>
<line x1="421.6" y1="271.5" x2="421.6" y2="184.6" stroke="#1a1a1a" stroke-width="1"/>
<line x1="418.8" y1="271" x2="421.6" y2="271" stroke="#1a1a1a" stroke-width="0.9"/>
<text x="417.8" y="271" font-size="6.6" text-anchor="end" font-weight="bold" dominant-baseline="central">0</text>
<line x1="418.8" y1="249.4" x2="421.6" y2="249.4" stroke="#1a1a1a" stroke-width="0.9"/>
<text x="417.8" y="249.4" font-size="6.6" text-anchor="end" font-weight="bold" dominant-baseline="central">10</text>
<line x1="418.8" y1="227.8" x2="421.6" y2="227.8" stroke="#1a1a1a" stroke-width="0.9"/>
<text x="417.8" y="227.8" font-size="6.6" text-anchor="end" font-weight="bold" dominant-baseline="central">20</text>
<line x1="418.8" y1="206.2" x2="421.6" y2="206.2" stroke="#1a1a1a" stroke-width="0.9"/>
<text x="417.8" y="206.2" font-size="6.6" text-anchor="end" font-weight="bold" dominant-baseline="central">30</text>
<line x1="418.8" y1="184.6" x2="421.6" y2="184.6" stroke="#1a1a1a" stroke-width="0.9"/>
<text x="417.8" y="184.6" font-size="6.6" text-anchor="end" font-weight="bold" dominant-baseline="central">40</text>
<line x1="421.1" y1="271" x2="480.3" y2="271" stroke="#1a1a1a" stroke-width="1"/>
<line x1="438.4" y1="271" x2="438.4" y2="273.8" stroke="#1a1a1a" stroke-width="0.9"/>
<line x1="463.5" y1="271" x2="463.5" y2="273.8" stroke="#1a1a1a" stroke-width="0.9"/>
<text x="438.4" y="279.3" font-size="5.8" text-anchor="middle" dominant-baseline="central">Control</text>
<text x="463.5" y="279.3" font-size="5.8" text-anchor="middle" dominant-baseline="central">aCD40</text>
<circle cx="431.3" cy="270.6" r="1.45" fill="#000"/>
<circle cx="433.7" cy="268.8" r="1.45" fill="#000"/>
<circle cx="435.9" cy="270.3" r="1.45" fill="#000"/>
<circle cx="438.5" cy="269.1" r="1.45" fill="#000"/>
<circle cx="438.5" cy="270.6" r="1.45" fill="#000"/>
<circle cx="441.1" cy="270.6" r="1.45" fill="#000"/>
<circle cx="443.1" cy="270.1" r="1.45" fill="#000"/>
<circle cx="445.5" cy="270.6" r="1.45" fill="#000"/>
<line x1="430.5" y1="270" x2="446.5" y2="270" stroke="#000" stroke-width="1.15"/>
<circle cx="463.4" cy="204.4" r="1.45" fill="#000"/>
<circle cx="460.4" cy="210" r="1.45" fill="#000"/>
<circle cx="466.3" cy="211.4" r="1.45" fill="#000"/>
<circle cx="460.4" cy="222.9" r="1.45" fill="#000"/>
<circle cx="466.3" cy="223.3" r="1.45" fill="#000"/>
<circle cx="463.5" cy="264.4" r="1.45" fill="#000"/>
<line x1="455.4" y1="217.3" x2="471.7" y2="217.3" stroke="#000" stroke-width="1.15"/>
<text x="402.9" y="228.2" font-size="6.8" text-anchor="middle" transform="rotate(-90 402.9 228.2)" dominant-baseline="central">% CC3+ area</text>
<text x="448.8" y="164.2" font-size="9" text-anchor="middle" dominant-baseline="central">CC3+</text>
<polyline points="438.2,199.5 438.2,194.5 463.4,194.5 463.4,199.5" fill="none" stroke="#000" stroke-width="0.9" stroke-linejoin="round"/>
<text x="451.1" y="190.26" font-size="10" text-anchor="middle" font-weight="bold" dominant-baseline="central">**</text>
<text x="0" y="0" font-size="15.72" transform="translate(4.62 327.32) scale(0.990 1)">D</text>
<line x1="49.9" y1="420" x2="49.9" y2="332.5" stroke="#1a1a1a" stroke-width="1"/>
<line x1="47.1" y1="419.5" x2="49.9" y2="419.5" stroke="#1a1a1a" stroke-width="0.9"/>
<text x="46.1" y="419.5" font-size="6.6" text-anchor="end" dominant-baseline="central">0.0</text>
<line x1="47.1" y1="402.1" x2="49.9" y2="402.1" stroke="#1a1a1a" stroke-width="0.9"/>
<text x="46.1" y="402.1" font-size="6.6" text-anchor="end" dominant-baseline="central">0.5</text>
<line x1="47.1" y1="384.7" x2="49.9" y2="384.7" stroke="#1a1a1a" stroke-width="0.9"/>
<text x="46.1" y="384.7" font-size="6.6" text-anchor="end" dominant-baseline="central">1.0</text>
<line x1="47.1" y1="367.3" x2="49.9" y2="367.3" stroke="#1a1a1a" stroke-width="0.9"/>
<text x="46.1" y="367.3" font-size="6.6" text-anchor="end" dominant-baseline="central">1.5</text>
<line x1="47.1" y1="349.9" x2="49.9" y2="349.9" stroke="#1a1a1a" stroke-width="0.9"/>
<text x="46.1" y="349.9" font-size="6.6" text-anchor="end" dominant-baseline="central">2.0</text>
<line x1="47.1" y1="332.5" x2="49.9" y2="332.5" stroke="#1a1a1a" stroke-width="0.9"/>
<text x="46.1" y="332.5" font-size="6.6" text-anchor="end" dominant-baseline="central">2.5</text>
<line x1="49.4" y1="419.5" x2="107.4" y2="419.5" stroke="#1a1a1a" stroke-width="1"/>
<line x1="66.1" y1="419.5" x2="66.1" y2="422.3" stroke="#1a1a1a" stroke-width="0.9"/>
<line x1="90.8" y1="419.5" x2="90.8" y2="422.3" stroke="#1a1a1a" stroke-width="0.9"/>
<text x="66.1" y="427.8" font-size="5.8" text-anchor="middle" dominant-baseline="central">Control</text>
<text x="90.8" y="427.8" font-size="5.8" text-anchor="middle" dominant-baseline="central">aCD40</text>
<circle cx="66.1" cy="347.9" r="1.45" fill="#000"/>
<circle cx="66.1" cy="353" r="1.45" fill="#000"/>
<circle cx="60.9" cy="357.1" r="1.45" fill="#000"/>
<circle cx="71.4" cy="359.3" r="1.45" fill="#000"/>
<circle cx="66.1" cy="360.9" r="1.45" fill="#000"/>
<circle cx="66.1" cy="367" r="1.45" fill="#000"/>
<circle cx="66.1" cy="372.6" r="1.45" fill="#000"/>
<circle cx="66.1" cy="375.2" r="1.45" fill="#000"/>
<circle cx="60.9" cy="376.5" r="1.45" fill="#000"/>
<circle cx="71.4" cy="376" r="1.45" fill="#000"/>
<line x1="58.2" y1="364" x2="74.3" y2="364" stroke="#808080" stroke-width="1.4"/>
<circle cx="90.8" cy="342.8" r="1.45" fill="#000"/>
<circle cx="85.7" cy="353.7" r="1.45" fill="#000"/>
<circle cx="90.8" cy="355.5" r="1.45" fill="#000"/>
<circle cx="90.8" cy="360" r="1.45" fill="#000"/>
<circle cx="90.8" cy="364.9" r="1.45" fill="#000"/>
<circle cx="90.8" cy="371.9" r="1.45" fill="#000"/>
<circle cx="90.8" cy="374.9" r="1.45" fill="#000"/>
<circle cx="85.7" cy="386.4" r="1.45" fill="#000"/>
<circle cx="90.8" cy="384.2" r="1.45" fill="#000"/>
<circle cx="96.3" cy="385.1" r="1.45" fill="#000"/>
<line x1="83.3" y1="368.3" x2="99.2" y2="368.3" stroke="#000" stroke-width="1.15"/>
<text x="29.7" y="378.2" font-size="6.8" text-anchor="middle" transform="rotate(-90 29.7 378.2)" dominant-baseline="central">% of CD45+</text>
<text x="79.5" y="316.8" font-size="9" text-anchor="middle" dominant-baseline="central">cDC: Tumor</text>
<text x="0" y="0" font-size="16.16" transform="translate(131.06 324.82) scale(0.938 1)">E</text>
<line x1="158.3" y1="420.3" x2="158.3" y2="334.5" stroke="#1a1a1a" stroke-width="1"/>
<line x1="155.5" y1="419.8" x2="158.3" y2="419.8" stroke="#1a1a1a" stroke-width="0.9"/>
<text x="154.5" y="419.8" font-size="6.6" text-anchor="end" font-weight="bold" dominant-baseline="central">0.0</text>
<line x1="155.5" y1="402.74" x2="158.3" y2="402.74" stroke="#1a1a1a" stroke-width="0.9"/>
<text x="154.5" y="402.74" font-size="6.6" text-anchor="end" font-weight="bold" dominant-baseline="central">0.5</text>
<line x1="155.5" y1="385.68" x2="158.3" y2="385.68" stroke="#1a1a1a" stroke-width="0.9"/>
<text x="154.5" y="385.68" font-size="6.6" text-anchor="end" font-weight="bold" dominant-baseline="central">1.0</text>
<line x1="155.5" y1="368.62" x2="158.3" y2="368.62" stroke="#1a1a1a" stroke-width="0.9"/>
<text x="154.5" y="368.62" font-size="6.6" text-anchor="end" font-weight="bold" dominant-baseline="central">1.5</text>
<line x1="155.5" y1="351.56" x2="158.3" y2="351.56" stroke="#1a1a1a" stroke-width="0.9"/>
<text x="154.5" y="351.56" font-size="6.6" text-anchor="end" font-weight="bold" dominant-baseline="central">2.0</text>
<line x1="155.5" y1="334.5" x2="158.3" y2="334.5" stroke="#1a1a1a" stroke-width="0.9"/>
<text x="154.5" y="334.5" font-size="6.6" text-anchor="end" font-weight="bold" dominant-baseline="central">2.5</text>
<line x1="157.8" y1="419.8" x2="215.5" y2="419.8" stroke="#4a4a4a" stroke-width="1"/>
<line x1="174.6" y1="419.8" x2="174.6" y2="422.6" stroke="#1a1a1a" stroke-width="0.9"/>
<line x1="198.9" y1="419.8" x2="198.9" y2="422.6" stroke="#1a1a1a" stroke-width="0.9"/>
<text x="174.6" y="428" font-size="5.8" text-anchor="middle" dominant-baseline="central">Control</text>
<text x="198.9" y="428" font-size="5.8" text-anchor="middle" dominant-baseline="central">aCD40</text>
<circle cx="174.6" cy="361.3" r="1.45" fill="#000"/>
<circle cx="174.6" cy="366.7" r="1.45" fill="#000"/>
<circle cx="177.2" cy="374.9" r="1.45" fill="#000"/>
<circle cx="171.9" cy="376.5" r="1.45" fill="#000"/>
<circle cx="171.9" cy="379.2" r="1.45" fill="#000"/>
<circle cx="177.2" cy="379.2" r="1.45" fill="#000"/>
<circle cx="171.9" cy="385.5" r="1.45" fill="#000"/>
<circle cx="177.2" cy="385.2" r="1.45" fill="#000"/>
<circle cx="174.6" cy="389.5" r="1.45" fill="#000"/>
<circle cx="174.6" cy="393.7" r="1.45" fill="#000"/>
<line x1="166.2" y1="378.5" x2="182.7" y2="378.5" stroke="#000" stroke-width="1.15"/>
<circle cx="198.9" cy="352.3" r="1.45" fill="#000"/>
<circle cx="198.9" cy="358.8" r="1.45" fill="#000"/>
<circle cx="193.6" cy="363.8" r="1.45" fill="#000"/>
<circle cx="198.9" cy="366.5" r="1.45" fill="#000"/>
<circle cx="198.9" cy="371.5" r="1.45" fill="#000"/>
<circle cx="198.9" cy="378.9" r="1.45" fill="#000"/>
<circle cx="198.9" cy="384.4" r="1.45" fill="#000"/>
<circle cx="193.6" cy="392.6" r="1.45" fill="#000"/>
<circle cx="198.9" cy="391.7" r="1.45" fill="#000"/>
<circle cx="204.1" cy="392.4" r="1.45" fill="#000"/>
<line x1="190.9" y1="375.2" x2="206.9" y2="375.2" stroke="#000" stroke-width="1.15"/>
<text x="138.7" y="378" font-size="6.8" text-anchor="middle" transform="rotate(-90 138.7 378)" dominant-baseline="central">% of CD45+</text>
<text x="187.4" y="316.8" font-size="9" text-anchor="middle" dominant-baseline="central">cDC2: Tumor</text>
<text x="0" y="0" font-size="16.01" transform="translate(237.09 323.42) scale(0.921 1)">F</text>
<line x1="275.9" y1="419.4" x2="275.9" y2="333.2" stroke="#555" stroke-width="1.2"/>
<line x1="273.1" y1="418.8" x2="275.9" y2="418.8" stroke="#555" stroke-width="0.9"/>
<text x="272.1" y="418.8" font-size="6.6" text-anchor="end" dominant-baseline="central">0.0</text>
<line x1="273.1" y1="397.4" x2="275.9" y2="397.4" stroke="#555" stroke-width="0.9"/>
<text x="272.1" y="397.4" font-size="6.6" text-anchor="end" dominant-baseline="central">0.1</text>
<line x1="273.1" y1="376" x2="275.9" y2="376" stroke="#555" stroke-width="0.9"/>
<text x="272.1" y="376" font-size="6.6" text-anchor="end" dominant-baseline="central">0.2</text>
<line x1="273.1" y1="354.6" x2="275.9" y2="354.6" stroke="#555" stroke-width="0.9"/>
<text x="272.1" y="354.6" font-size="6.6" text-anchor="end" dominant-baseline="central">0.3</text>
<line x1="273.1" y1="333.2" x2="275.9" y2="333.2" stroke="#555" stroke-width="0.9"/>
<text x="272.1" y="333.2" font-size="6.6" text-anchor="end" dominant-baseline="central">0.4</text>
<line x1="275.3" y1="418.8" x2="334" y2="418.8" stroke="#1a1a1a" stroke-width="1.2"/>
<line x1="292.5" y1="418.8" x2="292.5" y2="421.6" stroke="#1a1a1a" stroke-width="0.9"/>
<line x1="317.2" y1="418.8" x2="317.2" y2="421.6" stroke="#1a1a1a" stroke-width="0.9"/>
<text x="292.5" y="427.6" font-size="5.8" text-anchor="middle" dominant-baseline="central">Control</text>
<text x="317.2" y="427.6" font-size="5.8" text-anchor="middle" dominant-baseline="central">aCD40</text>
<circle cx="287.2" cy="348.4" r="1.45" fill="#000"/>
<circle cx="287.2" cy="352.7" r="1.45" fill="#000"/>
<circle cx="292.5" cy="350.4" r="1.45" fill="#000"/>
<circle cx="297.5" cy="350.4" r="1.45" fill="#000"/>
<circle cx="292.5" cy="360.9" r="1.45" fill="#000"/>
<circle cx="292.5" cy="365.3" r="1.45" fill="#000"/>
<circle cx="297.5" cy="374.1" r="1.45" fill="#000"/>
<circle cx="292.5" cy="376.3" r="1.45" fill="#000"/>
<circle cx="292.5" cy="380.5" r="1.45" fill="#000"/>
<circle cx="292.5" cy="391" r="1.45" fill="#000"/>
<line x1="284.3" y1="363.3" x2="300.8" y2="363.3" stroke="#000" stroke-width="1.15"/>
<circle cx="317.2" cy="376.1" r="1.45" fill="#000"/>
<circle cx="322.4" cy="374.1" r="1.45" fill="#000"/>
<circle cx="317.2" cy="393.4" r="1.45" fill="#000"/>
<circle cx="317.2" cy="400" r="1.45" fill="#000"/>
<circle cx="312" cy="402.9" r="1.45" fill="#000"/>
<circle cx="317.2" cy="402.9" r="1.45" fill="#000"/>
<circle cx="322.4" cy="402.9" r="1.45" fill="#000"/>
<circle cx="317.2" cy="408" r="1.45" fill="#000"/>
<circle cx="317.2" cy="411.5" r="1.45" fill="#000"/>
<circle cx="317.2" cy="418.5" r="1.45" fill="#000"/>
<line x1="309.4" y1="402.7" x2="325.2" y2="402.7" stroke="#000" stroke-width="1.15"/>
<text x="255.7" y="378" font-size="6.8" text-anchor="middle" transform="rotate(-90 255.7 378)" dominant-baseline="central">% of CD45+</text>
<text x="295.2" y="317.2" font-size="9" text-anchor="middle" dominant-baseline="central">cDC1: Tumor</text>
<line x1="292.5" y1="338.2" x2="317.2" y2="338.2" stroke="#000" stroke-width="1"/>
<text x="304.5" y="334.46" font-size="10" text-anchor="middle" font-weight="bold" textLength="18.2" lengthAdjust="spacingAndGlyphs" dominant-baseline="central">****</text>
<text x="0" y="0" font-size="15.7" transform="translate(383.81 320.86) scale(1.006 1)">G</text>
<text x="538.95" y="306.2" font-size="9.9" text-anchor="middle" textLength="56.7" lengthAdjust="spacingAndGlyphs" dominant-baseline="central">cDC1: TDLN</text>
<line x1="412.5" y1="316.5" x2="641.3" y2="316.5" stroke="#000" stroke-width="1.4"/>
<line x1="412.2" y1="420.1" x2="412.2" y2="333.3" stroke="#4a4a4a" stroke-width="1.2"/>
<line x1="409.4" y1="419.5" x2="412.2" y2="419.5" stroke="#4a4a4a" stroke-width="0.9"/>
<text x="408.4" y="419.5" font-size="6.6" text-anchor="end" dominant-baseline="central">0</text>
<line x1="409.4" y1="390.77" x2="412.2" y2="390.77" stroke="#4a4a4a" stroke-width="0.9"/>
<text x="408.4" y="390.77" font-size="6.6" text-anchor="end" dominant-baseline="central">2000</text>
<line x1="409.4" y1="362.03" x2="412.2" y2="362.03" stroke="#4a4a4a" stroke-width="0.9"/>
<text x="408.4" y="362.03" font-size="6.6" text-anchor="end" dominant-baseline="central">4000</text>
<line x1="409.4" y1="333.3" x2="412.2" y2="333.3" stroke="#4a4a4a" stroke-width="0.9"/>
<text x="408.4" y="333.3" font-size="6.6" text-anchor="end" dominant-baseline="central">6000</text>
<line x1="411.6" y1="419.5" x2="470.4" y2="419.5" stroke="#1a1a1a" stroke-width="1.2"/>
<line x1="428.5" y1="419.5" x2="428.5" y2="422.3" stroke="#1a1a1a" stroke-width="0.9"/>
<line x1="453.3" y1="419.5" x2="453.3" y2="422.3" stroke="#1a1a1a" stroke-width="0.9"/>
<text x="428.5" y="427.6" font-size="5.8" text-anchor="middle" dominant-baseline="central">Control</text>
<text x="453.3" y="427.6" font-size="5.8" text-anchor="middle" dominant-baseline="central">&#945;CD40</text>
<circle cx="428.5" cy="364.6" r="1.45" fill="#000"/>
<circle cx="428.5" cy="369.5" r="1.45" fill="#000"/>
<circle cx="428.5" cy="373" r="1.45" fill="#000"/>
<circle cx="428.5" cy="376.1" r="1.45" fill="#000"/>
<circle cx="425.9" cy="379.4" r="1.45" fill="#000"/>
<circle cx="431.1" cy="379.2" r="1.45" fill="#000"/>
<circle cx="425.9" cy="382.7" r="1.45" fill="#000"/>
<circle cx="431.1" cy="382.7" r="1.45" fill="#000"/>
<circle cx="425.9" cy="385.1" r="1.45" fill="#000"/>
<circle cx="431.1" cy="385.8" r="1.45" fill="#000"/>
<circle cx="425.9" cy="387.7" r="1.45" fill="#000"/>
<line x1="420.3" y1="379.2" x2="437.1" y2="379.2" stroke="#000" stroke-width="1.15"/>
<circle cx="453.3" cy="341.8" r="1.45" fill="#000"/>
<circle cx="450.7" cy="350.1" r="1.45" fill="#000"/>
<circle cx="456" cy="348.8" r="1.45" fill="#000"/>
<circle cx="456" cy="352.3" r="1.45" fill="#000"/>
<circle cx="450.7" cy="356.3" r="1.45" fill="#000"/>
<circle cx="456" cy="356.3" r="1.45" fill="#000"/>
<circle cx="450.7" cy="360" r="1.45" fill="#000"/>
<circle cx="456" cy="359.1" r="1.45" fill="#000"/>
<circle cx="456" cy="362.3" r="1.45" fill="#000"/>
<circle cx="453.3" cy="366.2" r="1.45" fill="#000"/>
<line x1="445" y1="356.4" x2="461.5" y2="356.4" stroke="#000" stroke-width="1.15"/>
<text x="386.6" y="375.8" font-size="6.8" text-anchor="middle" transform="rotate(-90 386.6 375.8)" dominant-baseline="central">CD40 MFI</text>
<line x1="426.5" y1="337.3" x2="454.6" y2="337.3" stroke="#000" stroke-width="1.1"/>
<text x="440.6" y="332.56" font-size="10" text-anchor="middle" font-weight="bold" dominant-baseline="central">*</text>
<line x1="503.4" y1="418.7" x2="503.4" y2="331.6" stroke="#1a1a1a" stroke-width="1"/>
<line x1="500.6" y1="418.2" x2="503.4" y2="418.2" stroke="#1a1a1a" stroke-width="0.9"/>
<text x="499.6" y="418.2" font-size="6.6" text-anchor="end" dominant-baseline="central">0</text>
<line x1="500.6" y1="400.88" x2="503.4" y2="400.88" stroke="#1a1a1a" stroke-width="0.9"/>
<text x="499.6" y="400.88" font-size="6.6" text-anchor="end" dominant-baseline="central">200</text>
<line x1="500.6" y1="383.56" x2="503.4" y2="383.56" stroke="#1a1a1a" stroke-width="0.9"/>
<text x="499.6" y="383.56" font-size="6.6" text-anchor="end" dominant-baseline="central">400</text>
<line x1="500.6" y1="366.24" x2="503.4" y2="366.24" stroke="#1a1a1a" stroke-width="0.9"/>
<text x="499.6" y="366.24" font-size="6.6" text-anchor="end" dominant-baseline="central">600</text>
<line x1="500.6" y1="348.92" x2="503.4" y2="348.92" stroke="#1a1a1a" stroke-width="0.9"/>
<text x="499.6" y="348.92" font-size="6.6" text-anchor="end" dominant-baseline="central">800</text>
<line x1="500.6" y1="331.6" x2="503.4" y2="331.6" stroke="#1a1a1a" stroke-width="0.9"/>
<text x="499.6" y="331.6" font-size="6.6" text-anchor="end" dominant-baseline="central">1000</text>
<line x1="502.9" y1="418.2" x2="561.6" y2="418.2" stroke="#1a1a1a" stroke-width="1"/>
<line x1="519.5" y1="418.2" x2="519.5" y2="421" stroke="#1a1a1a" stroke-width="0.9"/>
<line x1="544.4" y1="418.2" x2="544.4" y2="421" stroke="#1a1a1a" stroke-width="0.9"/>
<text x="519.5" y="427.3" font-size="5.8" text-anchor="middle" dominant-baseline="central">Control</text>
<text x="544.4" y="427.3" font-size="5.8" text-anchor="middle" dominant-baseline="central">&#945;CD40</text>
<circle cx="514.9" cy="363.6" r="1.45" fill="#000"/>
<circle cx="525.3" cy="361.3" r="1.45" fill="#000"/>
<circle cx="525.3" cy="365.6" r="1.45" fill="#000"/>
<circle cx="519.8" cy="366.4" r="1.45" fill="#000"/>
<circle cx="514.9" cy="367.5" r="1.45" fill="#000"/>
<circle cx="519.8" cy="369.5" r="1.45" fill="#000"/>
<circle cx="525.3" cy="369.5" r="1.45" fill="#000"/>
<circle cx="519.8" cy="374" r="1.45" fill="#000"/>
<circle cx="525.3" cy="372.8" r="1.45" fill="#000"/>
<circle cx="519.8" cy="378.2" r="1.45" fill="#000"/>
<line x1="511.8" y1="367.6" x2="527.9" y2="367.6" stroke="#000" stroke-width="1.15"/>
<circle cx="544.4" cy="351.5" r="1.45" fill="#000"/>
<circle cx="537.8" cy="355.2" r="1.45" fill="#000"/>
<circle cx="540.9" cy="356.7" r="1.45" fill="#000"/>
<circle cx="544.4" cy="357.2" r="1.45" fill="#000"/>
<circle cx="547.8" cy="357.2" r="1.45" fill="#000"/>
<circle cx="551.2" cy="357.2" r="1.45" fill="#000"/>
<circle cx="544.4" cy="361" r="1.45" fill="#000"/>
<circle cx="544.4" cy="364.5" r="1.45" fill="#000"/>
<circle cx="544.4" cy="369.5" r="1.45" fill="#000"/>
<line x1="536.3" y1="357.5" x2="553.2" y2="357.5" stroke="#000" stroke-width="1.15"/>
<text x="478.4" y="375.6" font-size="5.6" text-anchor="middle" transform="rotate(-90 478.4 375.6)" dominant-baseline="central">CD80 MFI</text>
<line x1="518.2" y1="335.7" x2="546" y2="335.7" stroke="#000" stroke-width="1.1"/>
<text x="532" y="331.66" font-size="10" text-anchor="middle" font-weight="bold" dominant-baseline="central">*</text>
<line x1="596.4" y1="419.9" x2="596.4" y2="332.2" stroke="#1a1a1a" stroke-width="1"/>
<line x1="593.6" y1="419.4" x2="596.4" y2="419.4" stroke="#1a1a1a" stroke-width="0.9"/>
<text x="592.6" y="419.4" font-size="6.6" text-anchor="end" dominant-baseline="central">0</text>
<line x1="593.6" y1="401.96" x2="596.4" y2="401.96" stroke="#1a1a1a" stroke-width="0.9"/>
<text x="592.6" y="401.96" font-size="6.6" text-anchor="end" dominant-baseline="central">200</text>
<line x1="593.6" y1="384.52" x2="596.4" y2="384.52" stroke="#1a1a1a" stroke-width="0.9"/>
<text x="592.6" y="384.52" font-size="6.6" text-anchor="end" dominant-baseline="central">400</text>
<line x1="593.6" y1="367.08" x2="596.4" y2="367.08" stroke="#1a1a1a" stroke-width="0.9"/>
<text x="592.6" y="367.08" font-size="6.6" text-anchor="end" dominant-baseline="central">600</text>
<line x1="593.6" y1="349.64" x2="596.4" y2="349.64" stroke="#1a1a1a" stroke-width="0.9"/>
<text x="592.6" y="349.64" font-size="6.6" text-anchor="end" dominant-baseline="central">800</text>
<line x1="593.6" y1="332.2" x2="596.4" y2="332.2" stroke="#1a1a1a" stroke-width="0.9"/>
<text x="592.6" y="332.2" font-size="6.6" text-anchor="end" dominant-baseline="central">1000</text>
<line x1="595.9" y1="419.4" x2="654.2" y2="419.4" stroke="#1a1a1a" stroke-width="1"/>
<line x1="612.4" y1="419.4" x2="612.4" y2="422.2" stroke="#1a1a1a" stroke-width="0.9"/>
<line x1="637.6" y1="419.4" x2="637.6" y2="422.2" stroke="#1a1a1a" stroke-width="0.9"/>
<text x="612.4" y="427.6" font-size="5.8" text-anchor="middle" dominant-baseline="central">Control</text>
<text x="637.6" y="427.6" font-size="5.8" text-anchor="middle" dominant-baseline="central">&#945;CD40</text>
<circle cx="612.4" cy="370.3" r="1.45" fill="#000"/>
<circle cx="614.3" cy="373.2" r="1.45" fill="#000"/>
<circle cx="610.3" cy="374.8" r="1.45" fill="#000"/>
<circle cx="605.5" cy="379.1" r="1.45" fill="#000"/>
<circle cx="610.3" cy="378.8" r="1.45" fill="#000"/>
<circle cx="616" cy="378.5" r="1.45" fill="#000"/>
<circle cx="619.6" cy="378.8" r="1.45" fill="#000"/>
<circle cx="612.4" cy="380.9" r="1.45" fill="#000"/>
<circle cx="612.4" cy="385.2" r="1.45" fill="#000"/>
<circle cx="612.4" cy="378" r="1.45" fill="#000"/>
<line x1="604.4" y1="378" x2="620.8" y2="378" stroke="#000" stroke-width="1.15"/>
<circle cx="637.6" cy="347.8" r="1.45" fill="#000"/>
<circle cx="637.6" cy="351.2" r="1.45" fill="#000"/>
<circle cx="634.7" cy="356.8" r="1.45" fill="#000"/>
<circle cx="640.4" cy="359" r="1.45" fill="#000"/>
<circle cx="634.7" cy="363.2" r="1.45" fill="#000"/>
<circle cx="640.4" cy="363.2" r="1.45" fill="#000"/>
<circle cx="634.7" cy="366" r="1.45" fill="#000"/>
<circle cx="640.4" cy="368" r="1.45" fill="#000"/>
<circle cx="637.6" cy="377.5" r="1.45" fill="#000"/>
<line x1="629.6" y1="363.2" x2="645.7" y2="363.2" stroke="#000" stroke-width="1.15"/>
<text x="570.3" y="375.6" font-size="6.8" text-anchor="middle" transform="rotate(-90 570.3 375.6)" dominant-baseline="central">CD86 MFI</text>
<line x1="610.7" y1="336.6" x2="638.9" y2="336.6" stroke="#000" stroke-width="1.1"/>
<text x="625.1" y="332.16" font-size="10" text-anchor="middle" font-weight="bold" dominant-baseline="central">*</text>
<text x="0" y="0" font-size="15.72" transform="translate(13.82 471.42) scale(0.992 1)">H</text>
<text x="175.1" y="461.2" font-size="9.8" text-anchor="middle" textLength="62.4" lengthAdjust="spacingAndGlyphs" dominant-baseline="central">cDC2s: TDLN</text>
<line x1="59.6" y1="472.7" x2="289.1" y2="472.7" stroke="#000" stroke-width="1.4"/>
<line x1="49" y1="574" x2="49" y2="487.3" stroke="#4a4a4a" stroke-width="1.2"/>
<line x1="46.2" y1="573.4" x2="49" y2="573.4" stroke="#4a4a4a" stroke-width="0.9"/>
<text x="45.2" y="573.4" font-size="6.6" text-anchor="end" dominant-baseline="central">0</text>
<line x1="46.2" y1="556.18" x2="49" y2="556.18" stroke="#4a4a4a" stroke-width="0.9"/>
<text x="45.2" y="556.18" font-size="6.6" text-anchor="end" dominant-baseline="central">1000</text>
<line x1="46.2" y1="538.96" x2="49" y2="538.96" stroke="#4a4a4a" stroke-width="0.9"/>
<text x="45.2" y="538.96" font-size="6.6" text-anchor="end" dominant-baseline="central">2000</text>
<line x1="46.2" y1="521.74" x2="49" y2="521.74" stroke="#4a4a4a" stroke-width="0.9"/>
<text x="45.2" y="521.74" font-size="6.6" text-anchor="end" dominant-baseline="central">3000</text>
<line x1="46.2" y1="504.52" x2="49" y2="504.52" stroke="#4a4a4a" stroke-width="0.9"/>
<text x="45.2" y="504.52" font-size="6.6" text-anchor="end" dominant-baseline="central">4000</text>
<line x1="46.2" y1="487.3" x2="49" y2="487.3" stroke="#4a4a4a" stroke-width="0.9"/>
<text x="45.2" y="487.3" font-size="6.6" text-anchor="end" dominant-baseline="central">5000</text>
<line x1="48.4" y1="573.4" x2="107.1" y2="573.4" stroke="#1a1a1a" stroke-width="1.2"/>
<line x1="65.5" y1="573.4" x2="65.5" y2="576.2" stroke="#1a1a1a" stroke-width="0.9"/>
<line x1="90.3" y1="573.4" x2="90.3" y2="576.2" stroke="#1a1a1a" stroke-width="0.9"/>
<text x="65.5" y="581.7" font-size="5.8" text-anchor="middle" dominant-baseline="central">Control</text>
<text x="90.3" y="581.7" font-size="5.8" text-anchor="middle" dominant-baseline="central">&#945;CD40</text>
<circle cx="65.5" cy="517.6" r="1.45" fill="#000"/>
<circle cx="62.8" cy="527.8" r="1.45" fill="#000"/>
<circle cx="68.1" cy="527.8" r="1.45" fill="#000"/>
<circle cx="70.8" cy="533.2" r="1.45" fill="#000"/>
<circle cx="60.2" cy="535.2" r="1.45" fill="#000"/>
<circle cx="65.5" cy="537.1" r="1.45" fill="#000"/>
<circle cx="70.8" cy="536.8" r="1.45" fill="#000"/>
<circle cx="65.5" cy="540.5" r="1.45" fill="#000"/>
<circle cx="70.8" cy="541.6" r="1.45" fill="#000"/>
<circle cx="60.2" cy="543" r="1.45" fill="#000"/>
<line x1="57.3" y1="536.1" x2="73.8" y2="536.1" stroke="#000" stroke-width="1.15"/>
<circle cx="90.3" cy="505.5" r="1.45" fill="#000"/>
<circle cx="90.3" cy="509.7" r="1.45" fill="#000"/>
<circle cx="90.3" cy="512.4" r="1.45" fill="#000"/>
<circle cx="87.7" cy="515.7" r="1.45" fill="#000"/>
<circle cx="93" cy="515.7" r="1.45" fill="#000"/>
<circle cx="90.3" cy="522" r="1.45" fill="#000"/>
<circle cx="90.3" cy="525.8" r="1.45" fill="#000"/>
<circle cx="87.7" cy="534.8" r="1.45" fill="#000"/>
<circle cx="93" cy="534.8" r="1.45" fill="#000"/>
<line x1="82.4" y1="516.6" x2="98.5" y2="516.6" stroke="#000" stroke-width="1.15"/>
<text x="23.7" y="529.5" font-size="6.8" text-anchor="middle" transform="rotate(-90 23.7 529.5)" dominant-baseline="central">CD40 MFI</text>
<line x1="63.5" y1="491" x2="91.5" y2="491" stroke="#000" stroke-width="1.1"/>
<text x="77.6" y="486.56" font-size="10" text-anchor="middle" font-weight="bold" dominant-baseline="central">*</text>
<line x1="147.1" y1="573.9" x2="147.1" y2="487.2" stroke="#1a1a1a" stroke-width="1"/>
<line x1="144.3" y1="573.4" x2="147.1" y2="573.4" stroke="#1a1a1a" stroke-width="0.9"/>
<text x="143.3" y="573.4" font-size="6.6" text-anchor="end" dominant-baseline="central">0</text>
<line x1="144.3" y1="544.67" x2="147.1" y2="544.67" stroke="#1a1a1a" stroke-width="0.9"/>
<text x="143.3" y="544.67" font-size="6.6" text-anchor="end" dominant-baseline="central">500</text>
<line x1="144.3" y1="515.93" x2="147.1" y2="515.93" stroke="#1a1a1a" stroke-width="0.9"/>
<text x="143.3" y="515.93" font-size="6.6" text-anchor="end" dominant-baseline="central">1000</text>
<line x1="144.3" y1="487.2" x2="147.1" y2="487.2" stroke="#1a1a1a" stroke-width="0.9"/>
<text x="143.3" y="487.2" font-size="6.6" text-anchor="end" dominant-baseline="central">1500</text>
<line x1="146.6" y1="573.4" x2="205.5" y2="573.4" stroke="#1a1a1a" stroke-width="1"/>
<line x1="163.7" y1="573.4" x2="163.7" y2="576.2" stroke="#1a1a1a" stroke-width="0.9"/>
<line x1="188.6" y1="573.4" x2="188.6" y2="576.2" stroke="#1a1a1a" stroke-width="0.9"/>
<text x="163.7" y="581.6" font-size="5.8" text-anchor="middle" dominant-baseline="central">Control</text>
<text x="188.6" y="581.6" font-size="5.8" text-anchor="middle" dominant-baseline="central">&#945;CD40</text>
<circle cx="163.7" cy="518.4" r="1.45" fill="#000"/>
<circle cx="156.9" cy="529.2" r="1.45" fill="#000"/>
<circle cx="166.3" cy="527" r="1.45" fill="#000"/>
<circle cx="170.8" cy="525.8" r="1.45" fill="#000"/>
<circle cx="161.7" cy="530.5" r="1.45" fill="#000"/>
<circle cx="166.3" cy="530.5" r="1.45" fill="#000"/>
<circle cx="161.7" cy="534.4" r="1.45" fill="#000"/>
<circle cx="166.3" cy="534.4" r="1.45" fill="#000"/>
<circle cx="163.7" cy="539" r="1.45" fill="#000"/>
<circle cx="170.8" cy="530" r="1.45" fill="#000"/>
<line x1="155.7" y1="530.1" x2="172" y2="530.1" stroke="#000" stroke-width="1.15"/>
<circle cx="188.6" cy="503.8" r="1.45" fill="#000"/>
<circle cx="188.6" cy="510.4" r="1.45" fill="#000"/>
<circle cx="188.6" cy="512.6" r="1.45" fill="#000"/>
<circle cx="185.2" cy="516" r="1.45" fill="#000"/>
<circle cx="191.7" cy="516" r="1.45" fill="#000"/>
<circle cx="181.4" cy="518.9" r="1.45" fill="#000"/>
<circle cx="188.6" cy="517.2" r="1.45" fill="#000"/>
<circle cx="195.5" cy="518.9" r="1.45" fill="#000"/>
<circle cx="195.5" cy="515.5" r="1.45" fill="#000"/>
<line x1="179.7" y1="516" x2="196.9" y2="516" stroke="#000" stroke-width="1.15"/>
<text x="121.3" y="530.1" font-size="6.8" text-anchor="middle" transform="rotate(-90 121.3 530.1)" dominant-baseline="central">CD80 MFI</text>
<line x1="162" y1="491.1" x2="190" y2="491.1" stroke="#000" stroke-width="1.1"/>
<text x="176.3" y="486.66" font-size="10" text-anchor="middle" font-weight="bold" dominant-baseline="central">*</text>
<line x1="246.2" y1="571" x2="246.2" y2="483.2" stroke="#1a1a1a" stroke-width="1"/>
<line x1="243.4" y1="570.5" x2="246.2" y2="570.5" stroke="#1a1a1a" stroke-width="0.9"/>
<text x="242.4" y="570.5" font-size="6.6" text-anchor="end" dominant-baseline="central">0</text>
<line x1="243.4" y1="541.4" x2="246.2" y2="541.4" stroke="#1a1a1a" stroke-width="0.9"/>
<text x="242.4" y="541.4" font-size="6.6" text-anchor="end" dominant-baseline="central">500</text>
<line x1="243.4" y1="512.3" x2="246.2" y2="512.3" stroke="#1a1a1a" stroke-width="0.9"/>
<text x="242.4" y="512.3" font-size="6.6" text-anchor="end" dominant-baseline="central">1000</text>
<line x1="243.4" y1="483.2" x2="246.2" y2="483.2" stroke="#1a1a1a" stroke-width="0.9"/>
<text x="242.4" y="483.2" font-size="6.6" text-anchor="end" dominant-baseline="central">1500</text>
<line x1="245.7" y1="570.5" x2="303.7" y2="570.5" stroke="#1a1a1a" stroke-width="1"/>
<line x1="262.5" y1="570.5" x2="262.5" y2="573.3" stroke="#1a1a1a" stroke-width="0.9"/>
<line x1="287.4" y1="570.5" x2="287.4" y2="573.3" stroke="#1a1a1a" stroke-width="0.9"/>
<text x="262.5" y="578.5" font-size="5.8" text-anchor="middle" dominant-baseline="central">Control</text>
<text x="287.4" y="578.5" font-size="5.8" text-anchor="middle" dominant-baseline="central">&#945;CD40</text>
<circle cx="262.5" cy="537.5" r="1.45" fill="#000"/>
<circle cx="262.5" cy="540.8" r="1.45" fill="#000"/>
<circle cx="255.7" cy="544.2" r="1.45" fill="#000"/>
<circle cx="259.6" cy="545.2" r="1.45" fill="#000"/>
<circle cx="262.5" cy="545.6" r="1.45" fill="#000"/>
<circle cx="266" cy="544.7" r="1.45" fill="#000"/>
<circle cx="269.4" cy="544.7" r="1.45" fill="#000"/>
<circle cx="255.7" cy="548.1" r="1.45" fill="#000"/>
<circle cx="262.5" cy="547.6" r="1.45" fill="#000"/>
<circle cx="269.4" cy="548.7" r="1.45" fill="#000"/>
<line x1="254" y1="545.2" x2="271.1" y2="545.2" stroke="#000" stroke-width="1.15"/>
<circle cx="287.4" cy="498.3" r="1.45" fill="#000"/>
<circle cx="287.4" cy="502.1" r="1.45" fill="#000"/>
<circle cx="284.9" cy="515.5" r="1.45" fill="#000"/>
<circle cx="290" cy="516.7" r="1.45" fill="#000"/>
<circle cx="284.9" cy="525.8" r="1.45" fill="#000"/>
<circle cx="290" cy="526.7" r="1.45" fill="#000"/>
<circle cx="284.9" cy="532.2" r="1.45" fill="#000"/>
<circle cx="290" cy="533.2" r="1.45" fill="#000"/>
<circle cx="287.4" cy="536.1" r="1.45" fill="#000"/>
<line x1="279.2" y1="526.2" x2="295.7" y2="526.2" stroke="#000" stroke-width="1.15"/>
<text x="221.3" y="527.5" font-size="6.8" text-anchor="middle" transform="rotate(-90 221.3 527.5)" dominant-baseline="central">CD86 MFI</text>
<line x1="260.8" y1="487.5" x2="288.6" y2="487.5" stroke="#000" stroke-width="1.1"/>
<text x="274.9" y="483.26" font-size="10" text-anchor="middle" font-weight="bold" dominant-baseline="central">*</text>
<text x="0" y="0" font-size="16.01" transform="translate(378.13 472.42) scale(1.000 1)">I</text>
<text x="455.9" y="471.6" font-size="9" text-anchor="middle" textLength="66.6" lengthAdjust="spacingAndGlyphs" dominant-baseline="central">CD103+ (tumor)</text>
<line x1="421.8" y1="567.8" x2="421.8" y2="491.2" stroke="#1a1a1a" stroke-width="1"/>
<line x1="419" y1="567.3" x2="421.8" y2="567.3" stroke="#1a1a1a" stroke-width="0.9"/>
<text x="418" y="567.3" font-size="5.6" text-anchor="end" dominant-baseline="central">0</text>
<line x1="419" y1="545.03" x2="421.8" y2="545.03" stroke="#1a1a1a" stroke-width="0.9"/>
<text x="418" y="545.03" font-size="5.6" text-anchor="end" dominant-baseline="central">50</text>
<line x1="419" y1="522.77" x2="421.8" y2="522.77" stroke="#1a1a1a" stroke-width="0.9"/>
<text x="418" y="522.77" font-size="5.6" text-anchor="end" dominant-baseline="central">100</text>
<line x1="419" y1="500.5" x2="421.8" y2="500.5" stroke="#1a1a1a" stroke-width="0.9"/>
<text x="418" y="500.5" font-size="5.6" text-anchor="end" dominant-baseline="central">150</text>
<line x1="421.3" y1="567.3" x2="497.5" y2="567.3" stroke="#1a1a1a" stroke-width="1"/>
<line x1="433.4" y1="567.3" x2="433.4" y2="570.1" stroke="#1a1a1a" stroke-width="0.9"/>
<line x1="451" y1="567.3" x2="451" y2="570.1" stroke="#1a1a1a" stroke-width="0.9"/>
<line x1="468.6" y1="567.3" x2="468.6" y2="570.1" stroke="#1a1a1a" stroke-width="0.9"/>
<line x1="486" y1="567.3" x2="486" y2="570.1" stroke="#1a1a1a" stroke-width="0.9"/>
<text x="433.4" y="600" font-size="5.8" text-anchor="middle" dominant-baseline="central"></text>
<text x="451" y="600" font-size="5.8" text-anchor="middle" dominant-baseline="central"></text>
<text x="468.6" y="600" font-size="5.8" text-anchor="middle" dominant-baseline="central"></text>
<text x="486" y="600" font-size="5.8" text-anchor="middle" dominant-baseline="central"></text>
<circle cx="429.3" cy="524.7" r="1.45" fill="#000"/>
<circle cx="432.4" cy="525.7" r="1.45" fill="#000"/>
<circle cx="434.9" cy="524.5" r="1.45" fill="#000"/>
<circle cx="438" cy="523.5" r="1.45" fill="#000"/>
<circle cx="429.3" cy="529.1" r="1.45" fill="#000"/>
<circle cx="434.9" cy="528.4" r="1.45" fill="#000"/>
<circle cx="438" cy="527.4" r="1.45" fill="#000"/>
<circle cx="432.4" cy="527.5" r="1.45" fill="#000"/>
<line x1="428" y1="526.3" x2="439" y2="526.3" stroke="#000" stroke-width="1.15"/>
<circle cx="451" cy="523.1" r="1.45" fill="#000"/>
<circle cx="446.6" cy="534.3" r="1.45" fill="#000"/>
<circle cx="455.3" cy="532.8" r="1.45" fill="#000"/>
<circle cx="451" cy="538.1" r="1.45" fill="#000"/>
<circle cx="446.6" cy="549.8" r="1.45" fill="#000"/>
<circle cx="455.3" cy="552.9" r="1.45" fill="#000"/>
<circle cx="451" cy="561.3" r="1.45" fill="#000"/>
<line x1="445.4" y1="538.1" x2="457" y2="538.1" stroke="#000" stroke-width="1.15"/>
<circle cx="468.6" cy="538" r="1.45" fill="#000"/>
<circle cx="468.6" cy="541.5" r="1.45" fill="#000"/>
<circle cx="464.3" cy="545.4" r="1.45" fill="#000"/>
<circle cx="473" cy="545.8" r="1.45" fill="#000"/>
<circle cx="468.6" cy="547" r="1.45" fill="#000"/>
<circle cx="468.6" cy="550.5" r="1.45" fill="#000"/>
<circle cx="468.6" cy="567.3" r="1.45" fill="#000"/>
<line x1="462.8" y1="545.4" x2="473.9" y2="545.4" stroke="#000" stroke-width="1.15"/>
<circle cx="486" cy="525" r="1.45" fill="#000"/>
<circle cx="481.6" cy="535.5" r="1.45" fill="#000"/>
<circle cx="486" cy="532.5" r="1.45" fill="#000"/>
<circle cx="490.3" cy="533" r="1.45" fill="#000"/>
<circle cx="481.6" cy="539.6" r="1.45" fill="#000"/>
<circle cx="490.3" cy="538.6" r="1.45" fill="#000"/>
<circle cx="486" cy="535.3" r="1.45" fill="#000"/>
<line x1="480.1" y1="535.3" x2="491.9" y2="535.3" stroke="#000" stroke-width="1.15"/>
<text x="403.4" y="530.7" font-size="6" text-anchor="middle" transform="rotate(-90 403.4 530.7)" dominant-baseline="central">% of cDC1</text>
<text x="434.6" y="576.3" font-size="5.2" text-anchor="end" transform="rotate(-45 434.6 576.3)">Control</text>
<text x="452.2" y="576.3" font-size="5.2" text-anchor="end" transform="rotate(-45 452.2 576.3)">aCD40 d2</text>
<text x="469.8" y="576.3" font-size="5.2" text-anchor="end" transform="rotate(-45 469.8 576.3)">aCD40 d5</text>
<text x="487.2" y="576.3" font-size="5.2" text-anchor="end" transform="rotate(-45 487.2 576.3)">aCD40 d7</text>
<polyline points="433.4,509.2 433.4,497.7 468.6,497.7 468.6,532.8" fill="none" stroke="#000" stroke-width="0.9" stroke-linejoin="round"/>
<text x="451" y="494.5" font-size="9" text-anchor="middle" font-weight="bold" dominant-baseline="central">**</text>
<polyline points="433.4,518.5 433.4,514.2 451,514.2 451,518.5" fill="none" stroke="#000" stroke-width="0.9" stroke-linejoin="round"/>
<text x="442.3" y="510.2" font-size="9" text-anchor="middle" font-weight="bold" dominant-baseline="central">*</text>
<text x="552.6" y="471.6" font-size="9" text-anchor="middle" textLength="67.4" lengthAdjust="spacingAndGlyphs" dominant-baseline="central">CD103+ (TDLN)</text>
<line x1="522.6" y1="568.5" x2="522.6" y2="492.3" stroke="#1a1a1a" stroke-width="1"/>
<line x1="519.8" y1="568" x2="522.6" y2="568" stroke="#1a1a1a" stroke-width="0.9"/>
<text x="518.8" y="568" font-size="5.6" text-anchor="end" dominant-baseline="central">0</text>
<line x1="519.8" y1="551.33" x2="522.6" y2="551.33" stroke="#1a1a1a" stroke-width="0.9"/>
<text x="518.8" y="551.33" font-size="5.6" text-anchor="end" dominant-baseline="central">20</text>
<line x1="519.8" y1="534.65" x2="522.6" y2="534.65" stroke="#1a1a1a" stroke-width="0.9"/>
<text x="518.8" y="534.65" font-size="5.6" text-anchor="end" dominant-baseline="central">40</text>
<line x1="519.8" y1="517.98" x2="522.6" y2="517.98" stroke="#1a1a1a" stroke-width="0.9"/>
<text x="518.8" y="517.98" font-size="5.6" text-anchor="end" dominant-baseline="central">60</text>
<line x1="519.8" y1="501.3" x2="522.6" y2="501.3" stroke="#1a1a1a" stroke-width="0.9"/>
<text x="518.8" y="501.3" font-size="5.6" text-anchor="end" dominant-baseline="central">80</text>
<line x1="522.1" y1="568" x2="598.5" y2="568" stroke="#1a1a1a" stroke-width="1"/>
<line x1="534.2" y1="568" x2="534.2" y2="570.8" stroke="#1a1a1a" stroke-width="0.9"/>
<line x1="551.5" y1="568" x2="551.5" y2="570.8" stroke="#1a1a1a" stroke-width="0.9"/>
<line x1="569.4" y1="568" x2="569.4" y2="570.8" stroke="#1a1a1a" stroke-width="0.9"/>
<line x1="586.9" y1="568" x2="586.9" y2="570.8" stroke="#1a1a1a" stroke-width="0.9"/>
<text x="534.2" y="600" font-size="5.8" text-anchor="middle" dominant-baseline="central"></text>
<text x="551.5" y="600" font-size="5.8" text-anchor="middle" dominant-baseline="central"></text>
<text x="569.4" y="600" font-size="5.8" text-anchor="middle" dominant-baseline="central"></text>
<text x="586.9" y="600" font-size="5.8" text-anchor="middle" dominant-baseline="central"></text>
<circle cx="530.3" cy="550.7" r="1.45" fill="#000"/>
<circle cx="538.7" cy="549.6" r="1.45" fill="#000"/>
<circle cx="538.7" cy="553.1" r="1.45" fill="#000"/>
<circle cx="534.2" cy="556.3" r="1.45" fill="#000"/>
<circle cx="530.3" cy="560.7" r="1.45" fill="#000"/>
<circle cx="538.7" cy="563.8" r="1.45" fill="#000"/>
<circle cx="530.3" cy="564.7" r="1.45" fill="#000"/>
<line x1="528.4" y1="556.3" x2="540.1" y2="556.3" stroke="#000" stroke-width="1.15"/>
<circle cx="551.5" cy="549.3" r="1.45" fill="#000"/>
<circle cx="549.8" cy="554.2" r="1.45" fill="#000"/>
<circle cx="553.6" cy="554.2" r="1.45" fill="#000"/>
<circle cx="547.4" cy="560.4" r="1.45" fill="#000"/>
<circle cx="549.8" cy="559.5" r="1.45" fill="#000"/>
<circle cx="551.5" cy="559.5" r="1.45" fill="#000"/>
<circle cx="553.6" cy="559.5" r="1.45" fill="#000"/>
<circle cx="556.2" cy="559.5" r="1.45" fill="#000"/>
<line x1="546.3" y1="559.5" x2="557.4" y2="559.5" stroke="#000" stroke-width="1.15"/>
<circle cx="569.4" cy="530.3" r="1.45" fill="#000"/>
<circle cx="565.2" cy="535.3" r="1.45" fill="#000"/>
<circle cx="573.7" cy="535.5" r="1.45" fill="#000"/>
<circle cx="565.2" cy="541" r="1.45" fill="#000"/>
<circle cx="573.7" cy="539" r="1.45" fill="#000"/>
<circle cx="573.7" cy="542.6" r="1.45" fill="#000"/>
<circle cx="569.4" cy="549.3" r="1.45" fill="#000"/>
<line x1="563.4" y1="538.5" x2="575.5" y2="538.5" stroke="#000" stroke-width="1.15"/>
<circle cx="586.9" cy="537.9" r="1.45" fill="#000"/>
<circle cx="582.7" cy="544.7" r="1.45" fill="#000"/>
<circle cx="591.2" cy="544.9" r="1.45" fill="#000"/>
<circle cx="582.7" cy="551.5" r="1.45" fill="#000"/>
<circle cx="591.2" cy="549.9" r="1.45" fill="#000"/>
<circle cx="591.2" cy="554.2" r="1.45" fill="#000"/>
<circle cx="586.9" cy="558.3" r="1.45" fill="#000"/>
<line x1="581" y1="549.6" x2="593" y2="549.6" stroke="#000" stroke-width="1.15"/>
<text x="506.6" y="531.4" font-size="6" text-anchor="middle" transform="rotate(-90 506.6 531.4)" dominant-baseline="central">% of cDC1</text>
<text x="535.4" y="577.1" font-size="5.2" text-anchor="end" transform="rotate(-45 535.4 577.1)">Control</text>
<text x="552.7" y="577.1" font-size="5.2" text-anchor="end" transform="rotate(-45 552.7 577.1)">aCD40 d2</text>
<text x="570.6" y="577.1" font-size="5.2" text-anchor="end" transform="rotate(-45 570.6 577.1)">aCD40 d5</text>
<text x="588.1" y="577.1" font-size="5.2" text-anchor="end" transform="rotate(-45 588.1 577.1)">aCD40 d7</text>
<polyline points="534.2,516.6 534.2,505.2 586.9,505.2 586.9,533.2" fill="none" stroke="#000" stroke-width="0.9" stroke-linejoin="round"/>
<text x="560.6" y="501.7" font-size="9" text-anchor="middle" font-weight="bold" dominant-baseline="central">*</text>
<polyline points="534.2,544.7 534.2,521.3 569.4,521.3 569.4,525.6" fill="none" stroke="#000" stroke-width="0.9" stroke-linejoin="round"/>
<text x="552.3" y="517.7" font-size="9" text-anchor="middle" font-weight="bold" textLength="16" lengthAdjust="spacingAndGlyphs" dominant-baseline="central">****</text>
<text x="0" y="0" font-size="15.35" transform="translate(4.97 630.46) scale(0.940 1)">J</text>
<line x1="60.8" y1="733.9" x2="60.8" y2="636.3" stroke="#1a1a1a" stroke-width="1.2"/>
<line x1="60.2" y1="733.3" x2="189.5" y2="733.3" stroke="#1a1a1a" stroke-width="1.2"/>
<line x1="57.6" y1="733.3" x2="60.8" y2="733.3" stroke="#1a1a1a" stroke-width="1"/>
<text x="56.6" y="733.3" font-size="7" text-anchor="end" dominant-baseline="central">0</text>
<line x1="57.6" y1="709.05" x2="60.8" y2="709.05" stroke="#1a1a1a" stroke-width="1"/>
<text x="56.6" y="709.05" font-size="7" text-anchor="end" dominant-baseline="central">200</text>
<line x1="57.6" y1="684.8" x2="60.8" y2="684.8" stroke="#1a1a1a" stroke-width="1"/>
<text x="56.6" y="684.8" font-size="7" text-anchor="end" dominant-baseline="central">400</text>
<line x1="57.6" y1="660.55" x2="60.8" y2="660.55" stroke="#1a1a1a" stroke-width="1"/>
<text x="56.6" y="660.55" font-size="7" text-anchor="end" dominant-baseline="central">600</text>
<line x1="57.6" y1="636.3" x2="60.8" y2="636.3" stroke="#1a1a1a" stroke-width="1"/>
<text x="56.6" y="636.3" font-size="7" text-anchor="end" dominant-baseline="central">800</text>
<line x1="60.8" y1="733.3" x2="60.8" y2="736.5" stroke="#1a1a1a" stroke-width="1"/>
<text x="60.8" y="742.8" font-size="7" text-anchor="middle" dominant-baseline="central">0</text>
<line x1="103.7" y1="733.3" x2="103.7" y2="736.5" stroke="#1a1a1a" stroke-width="1"/>
<text x="103.7" y="742.8" font-size="7" text-anchor="middle" dominant-baseline="central">10</text>
<line x1="146.6" y1="733.3" x2="146.6" y2="736.5" stroke="#1a1a1a" stroke-width="1"/>
<text x="146.6" y="742.8" font-size="7" text-anchor="middle" dominant-baseline="central">20</text>
<line x1="189.5" y1="733.3" x2="189.5" y2="736.5" stroke="#1a1a1a" stroke-width="1"/>
<text x="189.5" y="742.8" font-size="7" text-anchor="middle" dominant-baseline="central">30</text>
<text x="125.3" y="753.3" font-size="6.6" text-anchor="middle" textLength="67" lengthAdjust="spacingAndGlyphs" dominant-baseline="central">Days post implantation</text>
<text x="29" y="684.9" font-size="7.6" text-anchor="middle" textLength="68" lengthAdjust="spacingAndGlyphs" transform="rotate(-90 29 684.9)" dominant-baseline="central">Tumor volume (mm<tspan font-size="5" dy="-2.8">3</tspan><tspan dy="2.8">)</tspan></text>
<polyline points="60.8,733.3 86.54,731.84 103.7,729.54 116.57,727.96 133.73,726.87 146.6,724.08 168.05,711.47 180.92,701.77" fill="none" stroke="#0a1cff" stroke-width="0.9" stroke-linejoin="round"/>
<line x1="146.6" y1="724.81" x2="146.6" y2="723.36" stroke="#0a1cff" stroke-width="0.9"/>
<line x1="144.8" y1="724.81" x2="148.4" y2="724.81" stroke="#0a1cff" stroke-width="0.9"/>
<line x1="144.8" y1="723.36" x2="148.4" y2="723.36" stroke="#0a1cff" stroke-width="0.9"/>
<line x1="168.05" y1="715.11" x2="168.05" y2="707.84" stroke="#0a1cff" stroke-width="0.9"/>
<line x1="166.25" y1="715.11" x2="169.85" y2="715.11" stroke="#0a1cff" stroke-width="0.9"/>
<line x1="166.25" y1="707.84" x2="169.85" y2="707.84" stroke="#0a1cff" stroke-width="0.9"/>
<line x1="180.92" y1="706.26" x2="180.92" y2="697.29" stroke="#0a1cff" stroke-width="0.9"/>
<line x1="179.12" y1="706.26" x2="182.72" y2="706.26" stroke="#0a1cff" stroke-width="0.9"/>
<line x1="179.12" y1="697.29" x2="182.72" y2="697.29" stroke="#0a1cff" stroke-width="0.9"/>
<polyline points="60.8,733.3 86.54,731.6 103.7,727.84 116.57,722.99 133.73,717.54 146.6,708.81 168.05,687.22 180.92,667.95" fill="none" stroke="#ff19ff" stroke-width="0.9" stroke-linejoin="round"/>
<line x1="133.73" y1="718.99" x2="133.73" y2="716.08" stroke="#ff19ff" stroke-width="0.9"/>
<line x1="131.93" y1="718.99" x2="135.53" y2="718.99" stroke="#ff19ff" stroke-width="0.9"/>
<line x1="131.93" y1="716.08" x2="135.53" y2="716.08" stroke="#ff19ff" stroke-width="0.9"/>
<line x1="146.6" y1="711.72" x2="146.6" y2="705.9" stroke="#ff19ff" stroke-width="0.9"/>
<line x1="144.8" y1="711.72" x2="148.4" y2="711.72" stroke="#ff19ff" stroke-width="0.9"/>
<line x1="144.8" y1="705.9" x2="148.4" y2="705.9" stroke="#ff19ff" stroke-width="0.9"/>
<line x1="168.05" y1="692.32" x2="168.05" y2="682.13" stroke="#ff19ff" stroke-width="0.9"/>
<line x1="166.25" y1="692.32" x2="169.85" y2="692.32" stroke="#ff19ff" stroke-width="0.9"/>
<line x1="166.25" y1="682.13" x2="169.85" y2="682.13" stroke="#ff19ff" stroke-width="0.9"/>
<line x1="180.92" y1="674.74" x2="180.92" y2="661.16" stroke="#ff19ff" stroke-width="0.9"/>
<line x1="179.12" y1="674.74" x2="182.72" y2="674.74" stroke="#ff19ff" stroke-width="0.9"/>
<line x1="179.12" y1="661.16" x2="182.72" y2="661.16" stroke="#ff19ff" stroke-width="0.9"/>
<polyline points="60.8,733.3 86.54,731.48 103.7,727.6 116.57,724.69 133.73,719.6 146.6,713.78 168.05,687.47 180.92,673.64" fill="none" stroke="#000" stroke-width="0.9" stroke-linejoin="round"/>
<line x1="133.73" y1="720.81" x2="133.73" y2="718.39" stroke="#000" stroke-width="0.9"/>
<line x1="131.93" y1="720.81" x2="135.53" y2="720.81" stroke="#000" stroke-width="0.9"/>
<line x1="131.93" y1="718.39" x2="135.53" y2="718.39" stroke="#000" stroke-width="0.9"/>
<line x1="146.6" y1="716.2" x2="146.6" y2="711.35" stroke="#000" stroke-width="0.9"/>
<line x1="144.8" y1="716.2" x2="148.4" y2="716.2" stroke="#000" stroke-width="0.9"/>
<line x1="144.8" y1="711.35" x2="148.4" y2="711.35" stroke="#000" stroke-width="0.9"/>
<line x1="168.05" y1="693.29" x2="168.05" y2="681.65" stroke="#000" stroke-width="0.9"/>
<line x1="166.25" y1="693.29" x2="169.85" y2="693.29" stroke="#000" stroke-width="0.9"/>
<line x1="166.25" y1="681.65" x2="169.85" y2="681.65" stroke="#000" stroke-width="0.9"/>
<line x1="180.92" y1="679.71" x2="180.92" y2="667.58" stroke="#000" stroke-width="0.9"/>
<line x1="179.12" y1="679.71" x2="182.72" y2="679.71" stroke="#000" stroke-width="0.9"/>
<line x1="179.12" y1="667.58" x2="182.72" y2="667.58" stroke="#000" stroke-width="0.9"/>
<polyline points="60.8,733.3 86.54,731.12 103.7,726.27 116.57,721.17 133.73,712.32 146.6,700.56 168.05,666.61 180.92,649.88" fill="none" stroke="#ff8a1c" stroke-width="0.9" stroke-linejoin="round"/>
<line x1="116.57" y1="722.14" x2="116.57" y2="720.2" stroke="#ff8a1c" stroke-width="0.9"/>
<line x1="114.77" y1="722.14" x2="118.37" y2="722.14" stroke="#ff8a1c" stroke-width="0.9"/>
<line x1="114.77" y1="720.2" x2="118.37" y2="720.2" stroke="#ff8a1c" stroke-width="0.9"/>
<line x1="133.73" y1="714.26" x2="133.73" y2="710.38" stroke="#ff8a1c" stroke-width="0.9"/>
<line x1="131.93" y1="714.26" x2="135.53" y2="714.26" stroke="#ff8a1c" stroke-width="0.9"/>
<line x1="131.93" y1="710.38" x2="135.53" y2="710.38" stroke="#ff8a1c" stroke-width="0.9"/>
<line x1="146.6" y1="703.23" x2="146.6" y2="697.89" stroke="#ff8a1c" stroke-width="0.9"/>
<line x1="144.8" y1="703.23" x2="148.4" y2="703.23" stroke="#ff8a1c" stroke-width="0.9"/>
<line x1="144.8" y1="697.89" x2="148.4" y2="697.89" stroke="#ff8a1c" stroke-width="0.9"/>
<line x1="168.05" y1="672.67" x2="168.05" y2="660.55" stroke="#ff8a1c" stroke-width="0.9"/>
<line x1="166.25" y1="672.67" x2="169.85" y2="672.67" stroke="#ff8a1c" stroke-width="0.9"/>
<line x1="166.25" y1="660.55" x2="169.85" y2="660.55" stroke="#ff8a1c" stroke-width="0.9"/>
<line x1="180.92" y1="657.64" x2="180.92" y2="642.12" stroke="#ff8a1c" stroke-width="0.9"/>
<line x1="179.12" y1="657.64" x2="182.72" y2="657.64" stroke="#ff8a1c" stroke-width="0.9"/>
<line x1="179.12" y1="642.12" x2="182.72" y2="642.12" stroke="#ff8a1c" stroke-width="0.9"/>
<rect x="58.9" y="731.4" width="3.8" height="3.8" fill="#0a1cff"/>
<rect x="84.64" y="729.94" width="3.8" height="3.8" fill="#0a1cff"/>
<rect x="101.8" y="727.64" width="3.8" height="3.8" fill="#0a1cff"/>
<rect x="114.67" y="726.06" width="3.8" height="3.8" fill="#0a1cff"/>
<rect x="131.83" y="724.97" width="3.8" height="3.8" fill="#0a1cff"/>
<rect x="144.7" y="722.18" width="3.8" height="3.8" fill="#0a1cff"/>
<rect x="166.15" y="709.57" width="3.8" height="3.8" fill="#0a1cff"/>
<rect x="179.02" y="699.88" width="3.8" height="3.8" fill="#0a1cff"/>
<polygon points="58.5,731.92 63.1,731.92 60.8,736.06" fill="#ff19ff"/>
<polygon points="84.24,730.22 88.84,730.22 86.54,734.36" fill="#ff19ff"/>
<polygon points="101.4,726.46 106,726.46 103.7,730.6" fill="#ff19ff"/>
<polygon points="114.27,721.61 118.87,721.61 116.57,725.75" fill="#ff19ff"/>
<polygon points="131.43,716.16 136.03,716.16 133.73,720.3" fill="#ff19ff"/>
<polygon points="144.3,707.43 148.9,707.43 146.6,711.57" fill="#ff19ff"/>
<polygon points="165.75,685.84 170.35,685.84 168.05,689.98" fill="#ff19ff"/>
<polygon points="178.62,666.57 183.22,666.57 180.92,670.71" fill="#ff19ff"/>
<circle cx="60.8" cy="733.3" r="2.1" fill="#000"/>
<circle cx="86.54" cy="731.48" r="2.1" fill="#000"/>
<circle cx="103.7" cy="727.6" r="2.1" fill="#000"/>
<circle cx="116.57" cy="724.69" r="2.1" fill="#000"/>
<circle cx="133.73" cy="719.6" r="2.1" fill="#000"/>
<circle cx="146.6" cy="713.78" r="2.1" fill="#000"/>
<circle cx="168.05" cy="687.47" r="2.1" fill="#000"/>
<circle cx="180.92" cy="673.64" r="2.1" fill="#000"/>
<polygon points="58.5,734.68 63.1,734.68 60.8,730.54" fill="#ff8a1c"/>
<polygon points="84.24,732.5 88.84,732.5 86.54,728.36" fill="#ff8a1c"/>
<polygon points="101.4,727.65 106,727.65 103.7,723.51" fill="#ff8a1c"/>
<polygon points="114.27,722.55 118.87,722.55 116.57,718.41" fill="#ff8a1c"/>
<polygon points="131.43,713.7 136.03,713.7 133.73,709.56" fill="#ff8a1c"/>
<polygon points="144.3,701.94 148.9,701.94 146.6,697.8" fill="#ff8a1c"/>
<polygon points="165.75,667.99 170.35,667.99 168.05,663.85" fill="#ff8a1c"/>
<polygon points="178.62,651.26 183.22,651.26 180.92,647.12" fill="#ff8a1c"/>
<line x1="65.3" y1="645.8" x2="75.8" y2="645.8" stroke="#000" stroke-width="0.9"/>
<circle cx="70.5" cy="645.8" r="2.1" fill="#000"/>
<text x="81.2" y="645.8" font-size="7.5" dominant-baseline="central">WT Control</text>
<line x1="65.3" y1="656.6" x2="75.8" y2="656.6" stroke="#0a1cff" stroke-width="0.9"/>
<rect x="68.6" y="654.7" width="3.8" height="3.8" fill="#0a1cff"/>
<text x="81.2" y="656.6" font-size="7.5" dominant-baseline="central">WT aCD40</text>
<line x1="65.3" y1="667.3" x2="75.8" y2="667.3" stroke="#ff8a1c" stroke-width="0.9"/>
<polygon points="68.2,668.68 72.8,668.68 70.5,664.54" fill="#ff8a1c"/>
<text x="81.2" y="667.3" font-size="7.5" dominant-baseline="central">BATF3 KO Control</text>
<line x1="65.3" y1="678.4" x2="75.8" y2="678.4" stroke="#ff19ff" stroke-width="0.9"/>
<polygon points="68.2,677.02 72.8,677.02 70.5,681.16" fill="#ff19ff"/>
<text x="81.2" y="678.4" font-size="7.5" dominant-baseline="central">BATF3 KO aCD40</text>
<line x1="122.8" y1="643.4" x2="122.8" y2="658.3" stroke="#000" stroke-width="1.1"/>
<text x="125.4" y="650.6" font-size="6.2" font-weight="bold" text-anchor="middle" dominant-baseline="central" textLength="12" lengthAdjust="spacingAndGlyphs" transform="rotate(90 125.4 650.6)">****</text>
<line x1="147.5" y1="643.4" x2="147.5" y2="669.5" stroke="#000" stroke-width="1.1"/>
<text x="149.8" y="655.3" font-size="6.2" font-weight="bold" text-anchor="middle" dominant-baseline="central" textLength="11.4" lengthAdjust="spacingAndGlyphs" transform="rotate(90 149.8 655.3)">****</text>
<line x1="152.3" y1="654.3" x2="152.3" y2="669.1" stroke="#000" stroke-width="1.1"/>
<text x="154.3" y="661.9" font-size="6.2" font-weight="bold" text-anchor="middle" dominant-baseline="central" textLength="11.8" lengthAdjust="spacingAndGlyphs" transform="rotate(90 154.3 661.9)">****</text>
<line x1="157.3" y1="653.3" x2="157.3" y2="678.8" stroke="#000" stroke-width="1.1"/>
<text x="160.1" y="666.55" font-size="6.2" font-weight="bold" text-anchor="middle" dominant-baseline="central" textLength="11.5" lengthAdjust="spacingAndGlyphs" transform="rotate(90 160.1 666.55)">****</text>
<line x1="144.5" y1="665.1" x2="144.5" y2="679.6" stroke="#000" stroke-width="1.1"/>
<text x="147.6" y="674.5" font-size="6.2" font-weight="bold" text-anchor="middle" dominant-baseline="central" transform="rotate(90 147.6 674.5)">*</text>
</svg>
</body></html>
